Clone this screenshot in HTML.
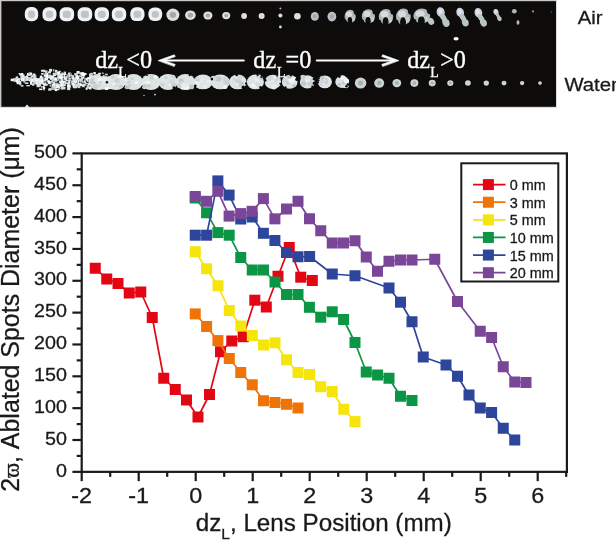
<!DOCTYPE html>
<html><head><meta charset="utf-8"><title>Ablated spots diameter vs lens position</title>
<style>
html,body{margin:0;padding:0;background:#fff;}
body{width:616px;height:542px;overflow:hidden;position:relative;font-family:"Liberation Sans", sans-serif;}
svg{position:absolute;left:0;top:0;display:block;}
text{font-family:"Liberation Sans", sans-serif;fill:#1a1a1a;stroke:#1a1a1a;stroke-width:0.3px;}
.serif{font-family:"Liberation Serif", serif;fill:#fff;stroke:#fff;stroke-width:0.35px;}
.om{font-family:"Liberation Serif", serif;}
</style></head><body>
<svg width="616" height="542" viewBox="0 0 616 542">
<defs>
<filter id="b1" x="-30%" y="-30%" width="160%" height="160%"><feGaussianBlur stdDeviation="0.9"/></filter>
<filter id="b3" x="-30%" y="-30%" width="160%" height="160%"><feGaussianBlur stdDeviation="0.75"/></filter>
<filter id="b2" x="-30%" y="-30%" width="160%" height="160%"><feGaussianBlur stdDeviation="0.6"/></filter>
</defs>
<rect width="616" height="542" fill="#fff"/>

<g id="photo">
<rect x="0" y="0" width="556.6" height="107.6" fill="#c9c9c9"/>
<rect x="1.4" y="1.2" width="554.6" height="105.6" fill="#0d0c0b"/>
<path d="M24.5 107.4L27 104.6L29.5 107.4Z" fill="#f4f4f4"/>
<g filter="url(#b2)">
<rect x="24.80" y="7.10" width="13.4" height="14.2" rx="5.6" ry="5.8" fill="#eff1f3"/>
<rect x="28.10" y="10.60" width="6.80" height="7.60" rx="3" ry="3" fill="#bfc4ca"/>
<rect x="42.50" y="7.20" width="14.0" height="14.0" rx="5.6" ry="5.8" fill="#eff1f3"/>
<rect x="45.80" y="10.70" width="7.40" height="7.40" rx="3" ry="3" fill="#bfc4ca"/>
<rect x="59.50" y="7.20" width="14.6" height="14.0" rx="5.6" ry="5.8" fill="#eff1f3"/>
<rect x="62.80" y="10.70" width="8.00" height="7.40" rx="3" ry="3" fill="#bfc4ca"/>
<rect x="77.60" y="7.20" width="14.6" height="14.0" rx="5.6" ry="5.8" fill="#eff1f3"/>
<rect x="80.90" y="10.70" width="8.00" height="7.40" rx="3" ry="3" fill="#bfc4ca"/>
<rect x="94.60" y="7.20" width="14.4" height="14.0" rx="5.6" ry="5.8" fill="#eff1f3"/>
<rect x="97.90" y="10.70" width="7.80" height="7.40" rx="3" ry="3" fill="#bfc4ca"/>
<rect x="111.80" y="7.20" width="14.4" height="14.0" rx="5.6" ry="5.8" fill="#eff1f3"/>
<rect x="115.10" y="10.70" width="7.80" height="7.40" rx="3" ry="3" fill="#bfc4ca"/>
<rect x="130.30" y="7.30" width="14.2" height="13.8" rx="5.6" ry="5.8" fill="#eff1f3"/>
<rect x="133.60" y="10.80" width="7.60" height="7.20" rx="3" ry="3" fill="#bfc4ca"/>
<rect x="148.40" y="7.50" width="13.8" height="13.4" rx="5.6" ry="5.8" fill="#eff1f3"/>
<rect x="151.70" y="11.00" width="7.20" height="6.80" rx="3" ry="3" fill="#bfc4ca"/>
</g>
<g filter="url(#b3)">
<ellipse cx="172.9" cy="14.8" rx="6.5" ry="6.2" fill="#dce0de"/>
<ellipse cx="172.9" cy="14.8" rx="3.25" ry="3.10" fill="#a4aaa8"/>
<ellipse cx="190.4" cy="15.2" rx="5.3" ry="4.8" fill="#dce0de"/>
<ellipse cx="190.4" cy="15.2" rx="2.65" ry="2.40" fill="#a4aaa8"/>
<ellipse cx="207.9" cy="15.5" rx="4.5" ry="4.1" fill="#dce0de"/>
<ellipse cx="207.9" cy="15.5" rx="2.25" ry="2.05" fill="#a4aaa8"/>
<ellipse cx="226.2" cy="15.6" rx="4" ry="3.6" fill="#dce0de"/>
<ellipse cx="226.2" cy="15.6" rx="2.00" ry="1.80" fill="#a4aaa8"/>
<ellipse cx="244.1" cy="16" rx="2.9" ry="2.9" fill="#dce0de"/>
<ellipse cx="261.6" cy="16" rx="3" ry="3" fill="#dce0de"/>
<ellipse cx="280.4" cy="15.5" rx="2" ry="2" fill="#dce0de"/>
<ellipse cx="297.4" cy="16.2" rx="3.3" ry="3.3" fill="#dce0de"/>
<ellipse cx="314.8" cy="16.4" rx="4.0" ry="4.3" fill="#bcc2c4"/>
<ellipse cx="314.8" cy="16.4" rx="2.00" ry="2.15" fill="#a3a6ae"/>
<ellipse cx="331.9" cy="16.6" rx="4.4" ry="4.8" fill="#bcc2c4"/>
<ellipse cx="331.9" cy="16.6" rx="2.20" ry="2.40" fill="#a3a6ae"/>
<circle cx="280.4" cy="27" r="1.4" fill="#cfe0e0"/><circle cx="280.4" cy="8.5" r="1" fill="#aab"/>
<ellipse cx="350.2" cy="16.4" rx="5.60" ry="6.60" fill="#aeb7b7"/>
<ellipse cx="349.08" cy="14.36" rx="3.08" ry="2.77" fill="#d6dbdf"/>
<ellipse cx="353.00" cy="18.98" rx="2.02" ry="2.38" fill="#c4ccc6"/>
<ellipse cx="349.92" cy="21.09" rx="2.24" ry="4.09" fill="#0d0c0b"/>
<ellipse cx="344.60" cy="21.62" rx="2.02" ry="2.64" fill="#0d0c0b"/>
<ellipse cx="355.52" cy="12.05" rx="1.90" ry="2.64" fill="#0d0c0b"/>
<ellipse cx="368.4" cy="16.4" rx="6.60" ry="7.20" fill="#aeb7b7"/>
<ellipse cx="367.08" cy="14.12" rx="3.63" ry="3.02" fill="#d6dbdf"/>
<ellipse cx="371.70" cy="19.16" rx="2.38" ry="2.59" fill="#c4ccc6"/>
<ellipse cx="368.07" cy="21.46" rx="2.64" ry="4.46" fill="#0d0c0b"/>
<ellipse cx="361.80" cy="22.04" rx="2.38" ry="2.88" fill="#0d0c0b"/>
<ellipse cx="374.67" cy="11.60" rx="2.24" ry="2.88" fill="#0d0c0b"/>
<ellipse cx="386" cy="16.7" rx="7.20" ry="7.80" fill="#aeb7b7"/>
<ellipse cx="384.56" cy="14.18" rx="3.96" ry="3.28" fill="#d6dbdf"/>
<ellipse cx="389.60" cy="19.64" rx="2.59" ry="2.81" fill="#c4ccc6"/>
<ellipse cx="385.64" cy="22.14" rx="2.88" ry="4.84" fill="#0d0c0b"/>
<ellipse cx="378.80" cy="22.76" rx="2.59" ry="3.12" fill="#0d0c0b"/>
<ellipse cx="392.84" cy="11.45" rx="2.45" ry="3.12" fill="#0d0c0b"/>
<ellipse cx="403.4" cy="16.7" rx="7.40" ry="8.20" fill="#aeb7b7"/>
<ellipse cx="401.92" cy="14.02" rx="4.07" ry="3.44" fill="#d6dbdf"/>
<ellipse cx="407.10" cy="19.76" rx="2.66" ry="2.95" fill="#c4ccc6"/>
<ellipse cx="403.03" cy="22.38" rx="2.96" ry="5.08" fill="#0d0c0b"/>
<ellipse cx="396.00" cy="23.04" rx="2.66" ry="3.28" fill="#0d0c0b"/>
<ellipse cx="410.43" cy="11.15" rx="2.52" ry="3.28" fill="#0d0c0b"/>
<ellipse cx="421.8" cy="16.0" rx="8.40" ry="7.40" fill="#aeb7b7"/>
<ellipse cx="420.12" cy="13.64" rx="4.62" ry="3.11" fill="#d6dbdf"/>
<ellipse cx="426.00" cy="18.82" rx="3.02" ry="2.66" fill="#c4ccc6"/>
<ellipse cx="421.38" cy="21.19" rx="3.36" ry="4.59" fill="#0d0c0b"/>
<ellipse cx="413.40" cy="21.78" rx="3.02" ry="2.96" fill="#0d0c0b"/>
<ellipse cx="429.78" cy="11.05" rx="2.86" ry="2.96" fill="#0d0c0b"/>
<ellipse cx="431" cy="21.4" rx="3.0" ry="3.6" fill="#bdc7c4" transform="rotate(-30 431 21.4)"/>
<ellipse cx="440.7" cy="12.2" rx="4.0" ry="5.0" fill="#cdd3da" transform="rotate(-15 440.7 12.2)"/>
<ellipse cx="443.3" cy="17.5" rx="2.7" ry="4.2" fill="#bcc6c8" transform="rotate(-32 443.3 17.5)"/>
<ellipse cx="445.9" cy="22.4" rx="3.5" ry="4.6" fill="#b9c6bf" transform="rotate(-20 445.9 22.4)"/>
<ellipse cx="440.3" cy="11.5" rx="1.7" ry="2.4" fill="#e4e6ee"/>
<ellipse cx="448.5" cy="17.5" rx="1.6" ry="2.6" fill="#0d0c0b"/>
<ellipse cx="439.7" cy="21.6" rx="2.2" ry="3.0" fill="#0d0c0b"/>
<ellipse cx="460.2" cy="12.4" rx="3.8" ry="4.8" fill="#cdd3da" transform="rotate(-15 460.2 12.4)"/>
<ellipse cx="462.7" cy="17.5" rx="2.6" ry="4.0" fill="#bcc6c8" transform="rotate(-32 462.7 17.5)"/>
<ellipse cx="465.2" cy="22.1" rx="3.3" ry="4.4" fill="#b9c6bf" transform="rotate(-20 465.2 22.1)"/>
<ellipse cx="459.8" cy="11.8" rx="1.6" ry="2.3" fill="#e4e6ee"/>
<ellipse cx="467.6" cy="17.5" rx="1.5" ry="2.5" fill="#0d0c0b"/>
<ellipse cx="459.3" cy="21.4" rx="2.1" ry="2.8" fill="#0d0c0b"/>
<ellipse cx="478.4" cy="12.7" rx="3.8" ry="4.8" fill="#cdd3da" transform="rotate(-15 478.4 12.7)"/>
<ellipse cx="480.9" cy="17.8" rx="2.6" ry="4.0" fill="#bcc6c8" transform="rotate(-32 480.9 17.8)"/>
<ellipse cx="483.4" cy="22.4" rx="3.3" ry="4.4" fill="#b9c6bf" transform="rotate(-20 483.4 22.4)"/>
<ellipse cx="478.0" cy="12.1" rx="1.6" ry="2.3" fill="#e4e6ee"/>
<ellipse cx="485.8" cy="17.8" rx="1.5" ry="2.5" fill="#0d0c0b"/>
<ellipse cx="477.5" cy="21.7" rx="2.1" ry="2.8" fill="#0d0c0b"/>
<ellipse cx="496.0" cy="12.0" rx="2.5" ry="3.1" fill="#cdd3da" transform="rotate(-15 496.0 12.0)"/>
<ellipse cx="497.6" cy="15.3" rx="1.7" ry="2.6" fill="#bcc6c8" transform="rotate(-32 497.6 15.3)"/>
<ellipse cx="499.3" cy="18.3" rx="2.2" ry="2.9" fill="#b9c6bf" transform="rotate(-20 499.3 18.3)"/>
<ellipse cx="495.8" cy="11.6" rx="1.1" ry="1.5" fill="#e4e6ee"/>
<ellipse cx="500.9" cy="15.3" rx="1.0" ry="1.6" fill="#0d0c0b"/>
<ellipse cx="495.4" cy="17.9" rx="1.4" ry="1.9" fill="#0d0c0b"/>
<ellipse cx="514.3" cy="11.2" rx="2.4" ry="2.2" fill="#aab8b0"/><ellipse cx="518" cy="22.5" rx="1.4" ry="2.2" fill="#c9b8c4"/>
<circle cx="533" cy="11.4" r="1.1" fill="#8a9088"/><circle cx="551.4" cy="12" r="0.8" fill="#555a66"/>
</g>
<ellipse cx="456.1" cy="38.8" rx="2.6" ry="1.7" fill="#fff" filter="url(#b2)"/>
<g filter="url(#b2)">
<rect x="17.1" y="78.4" width="1.7" height="1.3" fill="#eef3f3"/>
<rect x="14.8" y="79.6" width="3.0" height="1.9" fill="#d8e8e4"/>
<rect x="16.4" y="78.5" width="2.6" height="3.0" fill="#ffffff"/>
<rect x="15.8" y="76.5" width="2.3" height="1.9" fill="#ffffff"/>
<rect x="16.1" y="77.6" width="1.7" height="1.6" fill="#cfdadb"/>
<rect x="18.5" y="78.2" width="1.7" height="1.7" fill="#f8fafa"/>
<rect x="13.2" y="78.3" width="2.6" height="3.1" fill="#eef3f3"/>
<rect x="10.7" y="78.7" width="3.5" height="2.5" fill="#ffffff"/>
<rect x="13.4" y="79.1" width="2.4" height="1.9" fill="#cfdadb"/>
<rect x="18.2" y="80.3" width="1.7" height="1.8" fill="#eef3f3"/>
<rect x="18.5" y="81.0" width="2.5" height="3.1" fill="#eef3f3"/>
<rect x="17.9" y="80.0" width="2.2" height="2.4" fill="#c2d0d0"/>
<rect x="15.5" y="77.5" width="1.6" height="2.1" fill="#d8e8e4"/>
<rect x="15.5" y="79.4" width="1.6" height="2.7" fill="#e2dcea"/>
<rect x="13.9" y="80.2" width="2.5" height="1.5" fill="#c2d0d0"/>
<rect x="18.6" y="82.0" width="1.4" height="2.2" fill="#dfe6e6"/>
<rect x="16.3" y="77.7" width="2.1" height="1.5" fill="#cfdadb"/>
<rect x="13.8" y="78.7" width="2.1" height="1.6" fill="#cfdadb"/>
<rect x="19.2" y="73.6" width="3.0" height="1.6" fill="#d8e8e4"/>
<rect x="18.7" y="79.6" width="1.4" height="1.7" fill="#e2dcea"/>
<rect x="19.4" y="82.5" width="2.1" height="2.8" fill="#c2d0d0"/>
<rect x="20.3" y="78.3" width="1.8" height="1.6" fill="#cfdadb"/>
<rect x="16.7" y="81.8" width="3.6" height="2.4" fill="#eef3f3"/>
<rect x="15.4" y="79.8" width="3.1" height="1.3" fill="#dfe6e6"/>
<rect x="20.7" y="75.9" width="3.0" height="2.1" fill="#f8fafa"/>
<rect x="16.5" y="80.1" width="1.5" height="3.1" fill="#ffffff"/>
<rect x="16.0" y="80.4" width="1.5" height="1.4" fill="#f8fafa"/>
<rect x="23.0" y="77.1" width="2.4" height="2.5" fill="#d8e8e4"/>
<rect x="19.7" y="74.1" width="2.6" height="1.4" fill="#eef3f3"/>
<rect x="23.4" y="79.5" width="1.6" height="3.2" fill="#cfdadb"/>
<rect x="21.5" y="74.5" width="1.9" height="1.7" fill="#cfdadb"/>
<rect x="20.7" y="73.0" width="2.6" height="2.9" fill="#eef3f3"/>
<rect x="22.1" y="74.6" width="2.4" height="2.3" fill="#ffffff"/>
<rect x="21.3" y="77.5" width="2.5" height="2.9" fill="#f8fafa"/>
<rect x="18.6" y="73.0" width="1.6" height="1.4" fill="#dfe6e6"/>
<rect x="21.6" y="75.3" width="2.5" height="2.3" fill="#dfe6e6"/>
<rect x="24.0" y="76.1" width="1.7" height="1.2" fill="#dfe6e6"/>
<rect x="20.5" y="75.7" width="3.0" height="3.0" fill="#d8e8e4"/>
<rect x="20.8" y="85.1" width="2.7" height="1.5" fill="#e2dcea"/>
<rect x="21.1" y="77.2" width="2.4" height="3.1" fill="#e2dcea"/>
<rect x="26.9" y="73.0" width="1.8" height="2.0" fill="#ffffff"/>
<rect x="25.0" y="79.3" width="1.5" height="1.6" fill="#dfe6e6"/>
<rect x="23.9" y="79.0" width="1.6" height="2.7" fill="#c2d0d0"/>
<rect x="24.9" y="82.4" width="3.5" height="1.6" fill="#dfe6e6"/>
<rect x="20.9" y="78.5" width="3.6" height="2.8" fill="#f8fafa"/>
<rect x="24.1" y="79.1" width="2.1" height="1.3" fill="#c2d0d0"/>
<rect x="27.9" y="77.6" width="2.3" height="1.1" fill="#c2d0d0"/>
<rect x="23.5" y="76.7" width="3.5" height="1.3" fill="#cfdadb"/>
<rect x="26.6" y="76.8" width="1.9" height="1.2" fill="#f8fafa"/>
<rect x="25.5" y="78.0" width="2.3" height="3.0" fill="#e2dcea"/>
<rect x="23.7" y="79.0" width="2.5" height="2.1" fill="#c2d0d0"/>
<rect x="25.8" y="77.3" width="2.9" height="2.0" fill="#dfe6e6"/>
<rect x="26.0" y="77.5" width="1.5" height="1.6" fill="#cfdadb"/>
<rect x="28.9" y="79.6" width="2.3" height="1.8" fill="#ffffff"/>
<rect x="29.0" y="77.1" width="1.6" height="2.2" fill="#cfdadb"/>
<rect x="32.0" y="75.2" width="1.9" height="1.5" fill="#e2dcea"/>
<rect x="26.1" y="75.3" width="1.8" height="2.0" fill="#f8fafa"/>
<rect x="26.3" y="85.1" width="3.6" height="1.2" fill="#eef3f3"/>
<rect x="27.4" y="74.0" width="1.7" height="2.1" fill="#d8e8e4"/>
<rect x="30.0" y="82.4" width="2.3" height="2.1" fill="#ffffff"/>
<rect x="29.1" y="78.1" width="1.8" height="1.6" fill="#cfdadb"/>
<rect x="28.5" y="73.7" width="2.8" height="1.9" fill="#c2d0d0"/>
<rect x="31.3" y="77.5" width="1.3" height="2.4" fill="#e2dcea"/>
<rect x="26.6" y="79.0" width="2.8" height="1.9" fill="#e2dcea"/>
<rect x="28.7" y="74.1" width="1.4" height="1.5" fill="#e2dcea"/>
<rect x="28.5" y="77.4" width="3.5" height="3.1" fill="#c2d0d0"/>
<rect x="30.3" y="80.1" width="1.3" height="1.9" fill="#d8e8e4"/>
<rect x="30.2" y="81.7" width="1.9" height="2.7" fill="#dfe6e6"/>
<rect x="30.4" y="78.9" width="2.2" height="1.2" fill="#eef3f3"/>
<rect x="30.1" y="81.2" width="1.5" height="3.1" fill="#f8fafa"/>
<rect x="28.4" y="72.4" width="3.3" height="1.9" fill="#c2d0d0"/>
<rect x="30.2" y="72.8" width="2.0" height="2.4" fill="#f8fafa"/>
<rect x="33.2" y="78.6" width="3.4" height="2.4" fill="#f8fafa"/>
<rect x="32.8" y="73.5" width="2.6" height="2.8" fill="#eef3f3"/>
<rect x="33.0" y="75.2" width="3.4" height="2.5" fill="#cfdadb"/>
<rect x="32.7" y="79.5" width="2.8" height="3.1" fill="#ffffff"/>
<rect x="33.4" y="75.5" width="2.7" height="2.4" fill="#cfdadb"/>
<rect x="31.9" y="79.3" width="3.1" height="2.7" fill="#dfe6e6"/>
<rect x="31.8" y="78.7" width="3.0" height="1.6" fill="#dfe6e6"/>
<rect x="32.8" y="77.7" width="3.0" height="1.6" fill="#d8e8e4"/>
<rect x="30.6" y="79.4" width="2.4" height="2.5" fill="#eef3f3"/>
<rect x="31.0" y="76.5" width="1.5" height="1.4" fill="#e2dcea"/>
<rect x="30.6" y="75.5" width="2.7" height="1.4" fill="#d8e8e4"/>
<rect x="33.5" y="80.3" width="2.8" height="2.6" fill="#d8e8e4"/>
<rect x="31.9" y="83.6" width="2.4" height="2.1" fill="#dfe6e6"/>
<rect x="38.2" y="79.5" width="2.0" height="1.3" fill="#d8e8e4"/>
<rect x="37.3" y="79.2" width="3.2" height="3.1" fill="#d8e8e4"/>
<rect x="37.0" y="78.7" width="3.4" height="3.1" fill="#dfe6e6"/>
<rect x="34.8" y="77.9" width="2.5" height="3.1" fill="#f8fafa"/>
<rect x="33.9" y="76.7" width="1.9" height="1.3" fill="#c2d0d0"/>
<rect x="35.9" y="79.4" width="1.3" height="2.1" fill="#d8e8e4"/>
<rect x="33.4" y="82.6" width="2.3" height="1.9" fill="#dfe6e6"/>
<rect x="35.5" y="78.8" width="3.0" height="2.9" fill="#dfe6e6"/>
<rect x="37.4" y="78.2" width="1.3" height="2.7" fill="#e2dcea"/>
<rect x="33.9" y="81.7" width="3.6" height="2.3" fill="#c2d0d0"/>
<rect x="40.3" y="78.9" width="3.3" height="1.7" fill="#eef3f3"/>
<rect x="38.3" y="79.1" width="3.5" height="1.6" fill="#e2dcea"/>
<rect x="36.2" y="82.2" width="3.1" height="2.7" fill="#ffffff"/>
<rect x="40.3" y="76.6" width="2.8" height="3.0" fill="#cfdadb"/>
<rect x="37.6" y="80.3" width="3.0" height="2.0" fill="#f8fafa"/>
<rect x="37.6" y="78.6" width="1.4" height="3.0" fill="#f8fafa"/>
<rect x="39.1" y="84.8" width="1.9" height="1.6" fill="#e2dcea"/>
<rect x="36.9" y="82.6" width="2.4" height="2.5" fill="#dfe6e6"/>
<rect x="38.9" y="82.7" width="1.8" height="3.0" fill="#d8e8e4"/>
<rect x="36.3" y="79.9" width="2.1" height="2.7" fill="#ffffff"/>
<rect x="39.2" y="83.3" width="1.5" height="1.8" fill="#dfe6e6"/>
<rect x="36.9" y="84.7" width="3.2" height="1.5" fill="#eef3f3"/>
<rect x="39.8" y="75.6" width="2.3" height="2.2" fill="#ffffff"/>
<rect x="37.5" y="80.6" width="2.1" height="2.5" fill="#cfdadb"/>
<rect x="43.0" y="86.5" width="2.2" height="2.5" fill="#ffffff"/>
<rect x="42.6" y="78.5" width="3.3" height="1.1" fill="#eef3f3"/>
<rect x="36.6" y="84.1" width="3.1" height="3.1" fill="#d8e8e4"/>
<rect x="41.0" y="80.4" width="3.4" height="2.8" fill="#d8e8e4"/>
<rect x="41.5" y="80.5" width="1.6" height="1.4" fill="#dfe6e6"/>
<rect x="42.2" y="77.6" width="2.8" height="2.7" fill="#d8e8e4"/>
<rect x="42.9" y="85.6" width="1.3" height="1.4" fill="#eef3f3"/>
<rect x="39.2" y="77.7" width="1.6" height="1.6" fill="#ffffff"/>
<rect x="39.9" y="78.4" width="1.5" height="2.2" fill="#cfdadb"/>
<rect x="38.6" y="83.6" width="2.7" height="1.1" fill="#e2dcea"/>
<rect x="41.4" y="80.3" width="2.0" height="2.9" fill="#cfdadb"/>
<rect x="38.7" y="80.8" width="1.9" height="3.1" fill="#e2dcea"/>
<rect x="40.4" y="81.7" width="3.3" height="2.5" fill="#dfe6e6"/>
<rect x="39.1" y="88.5" width="3.4" height="1.6" fill="#eef3f3"/>
<rect x="41.0" y="69.8" width="2.1" height="1.9" fill="#eef3f3"/>
<rect x="42.7" y="69.7" width="2.5" height="1.5" fill="#cfdadb"/>
<rect x="40.9" y="86.1" width="1.8" height="1.6" fill="#e2dcea"/>
<rect x="43.6" y="81.2" width="2.7" height="3.0" fill="#d8e8e4"/>
<rect x="39.0" y="81.3" width="3.5" height="1.4" fill="#ffffff"/>
<rect x="42.1" y="77.7" width="2.7" height="2.0" fill="#eef3f3"/>
<rect x="42.4" y="82.4" width="2.9" height="1.8" fill="#dfe6e6"/>
<rect x="46.2" y="77.4" width="2.1" height="1.5" fill="#d8e8e4"/>
<rect x="44.6" y="78.8" width="2.2" height="1.9" fill="#c2d0d0"/>
<rect x="41.5" y="78.5" width="1.5" height="1.3" fill="#ffffff"/>
<rect x="42.2" y="76.8" width="3.5" height="1.5" fill="#c2d0d0"/>
<rect x="41.6" y="73.4" width="3.1" height="1.3" fill="#d8e8e4"/>
<rect x="42.6" y="83.3" width="2.3" height="1.8" fill="#d8e8e4"/>
<rect x="43.3" y="77.9" width="3.2" height="2.7" fill="#eef3f3"/>
<rect x="40.0" y="81.6" width="3.1" height="1.2" fill="#cfdadb"/>
<rect x="40.5" y="80.5" width="3.5" height="2.4" fill="#e2dcea"/>
<rect x="43.1" y="70.6" width="3.4" height="1.7" fill="#dfe6e6"/>
<rect x="44.9" y="78.2" width="2.4" height="3.1" fill="#ffffff"/>
<rect x="44.0" y="76.1" width="2.4" height="1.1" fill="#e2dcea"/>
<rect x="44.9" y="70.5" width="2.7" height="1.8" fill="#c2d0d0"/>
<rect x="40.5" y="80.2" width="2.7" height="2.2" fill="#ffffff"/>
<rect x="44.1" y="74.8" width="1.4" height="1.2" fill="#c2d0d0"/>
<rect x="45.1" y="83.0" width="1.5" height="1.3" fill="#dfe6e6"/>
<rect x="43.5" y="82.6" width="3.6" height="3.1" fill="#f8fafa"/>
<rect x="43.7" y="83.1" width="2.7" height="2.5" fill="#dfe6e6"/>
<rect x="44.2" y="74.2" width="1.9" height="1.7" fill="#e2dcea"/>
<rect x="43.8" y="75.0" width="1.9" height="1.6" fill="#f8fafa"/>
<rect x="43.2" y="89.2" width="1.7" height="1.2" fill="#e2dcea"/>
<rect x="46.1" y="77.5" width="1.8" height="2.8" fill="#d8e8e4"/>
<rect x="44.5" y="77.6" width="2.4" height="2.8" fill="#d8e8e4"/>
<rect x="44.3" y="77.7" width="2.0" height="1.4" fill="#cfdadb"/>
<rect x="41.2" y="73.0" width="1.7" height="1.3" fill="#f8fafa"/>
<rect x="45.0" y="78.2" width="3.1" height="3.1" fill="#dfe6e6"/>
<rect x="45.0" y="72.0" width="2.1" height="1.2" fill="#c2d0d0"/>
<rect x="47.7" y="80.0" width="1.9" height="2.4" fill="#cfdadb"/>
<rect x="45.1" y="80.5" width="2.7" height="1.3" fill="#eef3f3"/>
<rect x="47.8" y="71.9" width="1.4" height="1.3" fill="#ffffff"/>
<rect x="46.1" y="74.8" width="2.5" height="2.5" fill="#ffffff"/>
<rect x="46.3" y="72.9" width="2.0" height="1.7" fill="#eef3f3"/>
<rect x="46.0" y="83.5" width="2.1" height="2.0" fill="#c2d0d0"/>
<rect x="45.7" y="73.1" width="2.2" height="3.1" fill="#ffffff"/>
<rect x="47.9" y="74.5" width="3.2" height="2.0" fill="#c2d0d0"/>
<rect x="46.2" y="78.2" width="1.3" height="2.3" fill="#ffffff"/>
<rect x="49.0" y="81.2" width="2.2" height="2.2" fill="#f8fafa"/>
<rect x="46.4" y="80.4" width="1.7" height="1.2" fill="#ffffff"/>
<rect x="42.9" y="78.3" width="3.5" height="1.5" fill="#f8fafa"/>
<rect x="46.5" y="76.4" width="3.4" height="1.8" fill="#ffffff"/>
<rect x="48.9" y="81.1" width="2.9" height="3.0" fill="#cfdadb"/>
<rect x="45.2" y="72.8" width="1.8" height="2.1" fill="#cfdadb"/>
<rect x="53.8" y="83.0" width="1.7" height="1.9" fill="#f8fafa"/>
<rect x="48.9" y="88.3" width="3.4" height="1.2" fill="#eef3f3"/>
<rect x="48.7" y="76.0" width="2.2" height="2.1" fill="#e2dcea"/>
<rect x="48.7" y="76.5" width="1.9" height="1.9" fill="#c2d0d0"/>
<rect x="48.1" y="81.5" width="1.4" height="2.4" fill="#d8e8e4"/>
<rect x="47.3" y="80.7" width="2.7" height="2.8" fill="#f8fafa"/>
<rect x="50.5" y="75.3" width="1.5" height="1.9" fill="#c2d0d0"/>
<rect x="51.0" y="83.2" width="2.5" height="1.2" fill="#f8fafa"/>
<rect x="51.6" y="83.8" width="3.1" height="2.2" fill="#eef3f3"/>
<rect x="49.2" y="68.9" width="2.8" height="2.7" fill="#eef3f3"/>
<rect x="49.3" y="70.2" width="1.7" height="3.2" fill="#d8e8e4"/>
<rect x="48.2" y="88.5" width="3.1" height="2.5" fill="#cfdadb"/>
<rect x="50.6" y="82.0" width="3.0" height="1.4" fill="#e2dcea"/>
<rect x="51.3" y="76.2" width="1.9" height="3.1" fill="#d8e8e4"/>
<rect x="49.7" y="83.8" width="2.5" height="1.8" fill="#eef3f3"/>
<rect x="49.8" y="84.9" width="2.8" height="1.7" fill="#c2d0d0"/>
<rect x="49.9" y="78.4" width="3.1" height="1.3" fill="#eef3f3"/>
<rect x="50.1" y="75.8" width="3.3" height="2.3" fill="#dfe6e6"/>
<rect x="51.2" y="85.3" width="3.3" height="2.6" fill="#c2d0d0"/>
<rect x="49.8" y="77.3" width="3.1" height="2.0" fill="#f8fafa"/>
<rect x="48.4" y="71.0" width="2.0" height="2.2" fill="#e2dcea"/>
<rect x="49.5" y="76.1" width="2.0" height="1.1" fill="#eef3f3"/>
<rect x="51.7" y="83.6" width="2.7" height="2.0" fill="#c2d0d0"/>
<rect x="52.7" y="77.6" width="1.8" height="2.5" fill="#eef3f3"/>
<rect x="54.0" y="81.5" width="2.0" height="2.2" fill="#cfdadb"/>
<rect x="50.7" y="81.7" width="1.6" height="1.9" fill="#d8e8e4"/>
<rect x="51.4" y="79.9" width="3.1" height="2.6" fill="#d8e8e4"/>
<rect x="53.3" y="83.1" width="3.3" height="2.7" fill="#ffffff"/>
<rect x="54.3" y="82.5" width="3.4" height="2.3" fill="#d8e8e4"/>
<rect x="49.9" y="76.1" width="2.4" height="1.4" fill="#eef3f3"/>
<rect x="53.8" y="81.4" width="2.2" height="1.6" fill="#eef3f3"/>
<rect x="52.2" y="78.0" width="2.7" height="2.5" fill="#cfdadb"/>
<rect x="53.9" y="79.6" width="2.7" height="2.2" fill="#ffffff"/>
<rect x="54.0" y="74.3" width="2.0" height="1.7" fill="#eef3f3"/>
<rect x="56.2" y="76.6" width="2.4" height="2.2" fill="#ffffff"/>
<rect x="55.0" y="69.9" width="2.4" height="2.7" fill="#d8e8e4"/>
<rect x="53.6" y="83.7" width="1.6" height="3.0" fill="#e2dcea"/>
<rect x="52.9" y="73.2" width="2.6" height="2.0" fill="#e2dcea"/>
<rect x="51.7" y="88.4" width="3.4" height="1.3" fill="#eef3f3"/>
<rect x="54.8" y="86.8" width="3.2" height="1.5" fill="#f8fafa"/>
<rect x="52.8" y="72.7" width="3.3" height="1.8" fill="#cfdadb"/>
<rect x="50.3" y="83.2" width="3.4" height="3.2" fill="#d8e8e4"/>
<rect x="51.7" y="78.6" width="1.3" height="1.2" fill="#cfdadb"/>
<rect x="52.3" y="75.0" width="1.8" height="2.4" fill="#dfe6e6"/>
<rect x="52.8" y="76.2" width="1.4" height="1.3" fill="#f8fafa"/>
<rect x="53.3" y="79.8" width="1.4" height="1.2" fill="#eef3f3"/>
<rect x="52.9" y="69.2" width="1.5" height="2.3" fill="#c2d0d0"/>
<rect x="54.7" y="88.6" width="2.5" height="2.5" fill="#ffffff"/>
<rect x="54.7" y="79.6" width="1.6" height="1.2" fill="#dfe6e6"/>
<rect x="56.7" y="74.2" width="2.0" height="1.3" fill="#dfe6e6"/>
<rect x="56.2" y="73.3" width="2.0" height="1.8" fill="#e2dcea"/>
<rect x="56.9" y="80.4" width="1.9" height="2.6" fill="#c2d0d0"/>
<rect x="57.8" y="75.6" width="2.7" height="2.1" fill="#e2dcea"/>
<rect x="55.1" y="79.3" width="2.2" height="2.0" fill="#dfe6e6"/>
<rect x="53.6" y="86.8" width="2.5" height="1.6" fill="#dfe6e6"/>
<rect x="54.0" y="78.2" width="2.3" height="2.2" fill="#e2dcea"/>
<rect x="57.4" y="80.0" width="2.4" height="2.8" fill="#f8fafa"/>
<rect x="57.1" y="78.7" width="3.5" height="2.2" fill="#f8fafa"/>
<rect x="54.8" y="83.5" width="2.9" height="2.1" fill="#dfe6e6"/>
<rect x="58.1" y="76.4" width="2.4" height="3.2" fill="#dfe6e6"/>
<rect x="54.2" y="76.9" width="2.2" height="1.9" fill="#dfe6e6"/>
<rect x="53.1" y="83.7" width="2.2" height="1.7" fill="#ffffff"/>
<rect x="57.2" y="76.3" width="2.2" height="3.0" fill="#cfdadb"/>
<rect x="56.1" y="79.0" width="2.7" height="2.5" fill="#eef3f3"/>
<rect x="54.8" y="83.4" width="1.7" height="2.9" fill="#c2d0d0"/>
<rect x="55.9" y="84.7" width="3.1" height="2.3" fill="#f8fafa"/>
<rect x="53.8" y="86.3" width="2.9" height="2.2" fill="#e2dcea"/>
<rect x="56.4" y="86.1" width="3.2" height="1.4" fill="#f8fafa"/>
<rect x="60.4" y="77.2" width="2.7" height="1.8" fill="#cfdadb"/>
<rect x="56.6" y="80.9" width="3.5" height="2.6" fill="#dfe6e6"/>
<rect x="59.4" y="85.0" width="1.7" height="1.4" fill="#f8fafa"/>
<rect x="58.5" y="70.8" width="2.3" height="1.5" fill="#dfe6e6"/>
<rect x="57.0" y="89.1" width="2.4" height="1.1" fill="#ffffff"/>
<rect x="56.8" y="72.8" width="2.8" height="2.1" fill="#f8fafa"/>
<rect x="58.1" y="86.8" width="1.3" height="1.6" fill="#ffffff"/>
<rect x="56.8" y="71.6" width="2.8" height="2.9" fill="#cfdadb"/>
<rect x="56.6" y="72.1" width="2.3" height="1.8" fill="#dfe6e6"/>
<rect x="58.8" y="75.8" width="2.2" height="2.6" fill="#f8fafa"/>
<rect x="57.7" y="83.5" width="2.3" height="2.4" fill="#ffffff"/>
<rect x="54.6" y="77.1" width="3.3" height="3.0" fill="#c2d0d0"/>
<rect x="58.0" y="72.9" width="2.4" height="3.1" fill="#eef3f3"/>
<rect x="57.4" y="81.4" width="2.9" height="3.1" fill="#cfdadb"/>
<rect x="56.7" y="78.0" width="2.6" height="2.2" fill="#d8e8e4"/>
<rect x="54.7" y="77.8" width="3.2" height="2.2" fill="#ffffff"/>
<rect x="57.0" y="73.1" width="3.6" height="1.5" fill="#dfe6e6"/>
<rect x="57.2" y="71.8" width="2.8" height="1.6" fill="#ffffff"/>
<rect x="60.2" y="79.6" width="2.3" height="2.0" fill="#c2d0d0"/>
<rect x="59.8" y="78.0" width="2.0" height="1.9" fill="#cfdadb"/>
<rect x="64.9" y="79.0" width="2.4" height="1.4" fill="#dfe6e6"/>
<rect x="61.3" y="72.4" width="2.4" height="2.3" fill="#cfdadb"/>
<rect x="60.5" y="76.1" width="2.8" height="2.8" fill="#ffffff"/>
<rect x="58.8" y="80.3" width="2.6" height="1.4" fill="#d8e8e4"/>
<rect x="58.4" y="86.9" width="1.9" height="1.9" fill="#e2dcea"/>
<rect x="63.0" y="77.9" width="2.4" height="2.8" fill="#e2dcea"/>
<rect x="58.9" y="84.8" width="2.0" height="2.1" fill="#dfe6e6"/>
<rect x="58.9" y="74.7" width="3.4" height="2.9" fill="#eef3f3"/>
<rect x="62.5" y="81.9" width="2.0" height="3.1" fill="#c2d0d0"/>
<rect x="60.7" y="77.9" width="1.3" height="3.1" fill="#e2dcea"/>
<rect x="60.7" y="81.7" width="1.6" height="1.6" fill="#d8e8e4"/>
<rect x="59.3" y="81.1" width="3.4" height="2.8" fill="#f8fafa"/>
<rect x="57.6" y="74.7" width="3.5" height="1.3" fill="#e2dcea"/>
<rect x="61.2" y="86.1" width="2.5" height="2.7" fill="#d8e8e4"/>
<rect x="60.3" y="77.0" width="1.6" height="2.0" fill="#f8fafa"/>
<rect x="58.1" y="79.7" width="2.4" height="3.0" fill="#d8e8e4"/>
<rect x="60.2" y="81.8" width="2.7" height="2.6" fill="#f8fafa"/>
<rect x="63.5" y="76.6" width="2.6" height="2.5" fill="#d8e8e4"/>
<rect x="60.6" y="84.4" width="3.5" height="1.3" fill="#c2d0d0"/>
<rect x="62.0" y="79.8" width="2.7" height="2.5" fill="#c2d0d0"/>
<rect x="62.8" y="78.8" width="2.4" height="2.7" fill="#f8fafa"/>
<rect x="65.1" y="82.4" width="2.7" height="1.8" fill="#c2d0d0"/>
<rect x="60.7" y="86.6" width="2.6" height="3.0" fill="#e2dcea"/>
<rect x="60.7" y="82.2" width="2.6" height="2.8" fill="#e2dcea"/>
<rect x="61.4" y="84.2" width="2.1" height="3.2" fill="#c2d0d0"/>
<rect x="64.7" y="80.0" width="3.1" height="1.8" fill="#c2d0d0"/>
<rect x="61.7" y="79.1" width="3.5" height="1.3" fill="#eef3f3"/>
<rect x="60.7" y="83.9" width="2.2" height="2.3" fill="#ffffff"/>
<rect x="62.7" y="80.8" width="1.7" height="3.0" fill="#eef3f3"/>
<rect x="63.3" y="71.6" width="2.7" height="2.4" fill="#dfe6e6"/>
<rect x="63.1" y="86.7" width="2.4" height="2.7" fill="#dfe6e6"/>
<rect x="60.7" y="73.9" width="2.3" height="1.3" fill="#eef3f3"/>
<rect x="62.7" y="83.8" width="3.1" height="2.3" fill="#e2dcea"/>
<rect x="66.6" y="76.5" width="1.4" height="1.1" fill="#eef3f3"/>
<rect x="62.8" y="77.9" width="3.2" height="2.7" fill="#ffffff"/>
<rect x="61.8" y="74.3" width="2.3" height="1.1" fill="#ffffff"/>
<rect x="64.4" y="76.0" width="3.1" height="2.3" fill="#dfe6e6"/>
<rect x="64.9" y="76.3" width="1.6" height="1.1" fill="#eef3f3"/>
<rect x="67.4" y="78.1" width="3.6" height="2.9" fill="#cfdadb"/>
<rect x="66.5" y="76.2" width="1.3" height="2.6" fill="#cfdadb"/>
<rect x="62.0" y="80.4" width="3.4" height="1.9" fill="#f8fafa"/>
<rect x="65.1" y="76.1" width="2.7" height="2.6" fill="#d8e8e4"/>
<rect x="66.4" y="77.8" width="1.4" height="1.2" fill="#dfe6e6"/>
<rect x="64.0" y="80.0" width="2.7" height="3.1" fill="#d8e8e4"/>
<rect x="63.6" y="75.5" width="3.5" height="2.6" fill="#d8e8e4"/>
<rect x="67.2" y="77.6" width="3.1" height="1.9" fill="#f8fafa"/>
<rect x="66.8" y="76.0" width="2.2" height="2.8" fill="#e2dcea"/>
<rect x="68.7" y="74.6" width="2.0" height="1.2" fill="#c2d0d0"/>
<rect x="70.5" y="74.9" width="1.3" height="1.4" fill="#e2dcea"/>
<rect x="64.0" y="73.8" width="1.9" height="1.9" fill="#ffffff"/>
<rect x="64.5" y="74.4" width="3.2" height="1.7" fill="#eef3f3"/>
<rect x="67.7" y="82.1" width="1.7" height="3.0" fill="#eef3f3"/>
<rect x="67.3" y="81.3" width="3.3" height="3.2" fill="#f8fafa"/>
<rect x="67.1" y="87.6" width="3.2" height="2.5" fill="#d8e8e4"/>
<rect x="67.4" y="80.7" width="2.6" height="2.8" fill="#cfdadb"/>
<rect x="68.1" y="73.1" width="3.6" height="1.7" fill="#eef3f3"/>
<rect x="67.4" y="75.5" width="1.8" height="1.6" fill="#eef3f3"/>
<rect x="68.9" y="74.7" width="1.5" height="2.8" fill="#dfe6e6"/>
<rect x="67.7" y="84.7" width="3.4" height="3.0" fill="#c2d0d0"/>
<rect x="65.9" y="80.7" width="1.7" height="1.5" fill="#f8fafa"/>
<rect x="71.5" y="77.5" width="2.6" height="1.9" fill="#f8fafa"/>
<rect x="67.7" y="81.0" width="2.2" height="2.1" fill="#dfe6e6"/>
<rect x="72.6" y="85.4" width="2.1" height="2.2" fill="#eef3f3"/>
<rect x="71.7" y="82.2" width="3.3" height="2.3" fill="#cfdadb"/>
<rect x="66.9" y="84.9" width="3.1" height="2.8" fill="#f8fafa"/>
<rect x="71.5" y="82.1" width="1.8" height="1.5" fill="#dfe6e6"/>
<rect x="71.7" y="80.6" width="2.2" height="2.6" fill="#d8e8e4"/>
<rect x="75.4" y="77.5" width="1.4" height="2.4" fill="#ffffff"/>
<rect x="74.1" y="77.7" width="1.5" height="1.8" fill="#cfdadb"/>
<rect x="68.1" y="72.5" width="2.8" height="1.9" fill="#d8e8e4"/>
<rect x="72.4" y="77.1" width="1.8" height="2.6" fill="#f8fafa"/>
<rect x="72.6" y="81.0" width="2.1" height="3.0" fill="#eef3f3"/>
<rect x="71.1" y="79.3" width="3.1" height="2.6" fill="#d8e8e4"/>
<rect x="71.8" y="81.0" width="3.0" height="3.1" fill="#e2dcea"/>
<rect x="71.4" y="79.5" width="2.8" height="2.1" fill="#c2d0d0"/>
<rect x="73.2" y="84.4" width="2.4" height="1.5" fill="#cfdadb"/>
<rect x="74.2" y="73.1" width="3.4" height="2.1" fill="#cfdadb"/>
<rect x="73.2" y="80.0" width="3.2" height="1.3" fill="#c2d0d0"/>
<rect x="74.1" y="80.8" width="2.3" height="1.3" fill="#ffffff"/>
<rect x="74.7" y="77.1" width="2.3" height="1.8" fill="#cfdadb"/>
<rect x="71.1" y="83.0" width="1.6" height="1.6" fill="#eef3f3"/>
<rect x="73.6" y="86.2" width="3.3" height="2.0" fill="#f8fafa"/>
<rect x="73.4" y="86.5" width="1.7" height="1.7" fill="#e2dcea"/>
<rect x="72.7" y="84.3" width="2.4" height="1.8" fill="#d8e8e4"/>
<rect x="76.6" y="85.4" width="2.8" height="1.5" fill="#d8e8e4"/>
<rect x="73.4" y="79.6" width="3.0" height="3.1" fill="#ffffff"/>
<rect x="79.1" y="81.5" width="3.4" height="1.3" fill="#e2dcea"/>
<rect x="71.9" y="82.7" width="3.2" height="3.2" fill="#f8fafa"/>
<rect x="73.2" y="82.0" width="3.2" height="1.8" fill="#f8fafa"/>
<rect x="71.6" y="82.0" width="3.5" height="1.7" fill="#c2d0d0"/>
<rect x="71.7" y="82.8" width="1.8" height="2.3" fill="#f8fafa"/>
<rect x="76.6" y="75.2" width="1.8" height="1.5" fill="#dfe6e6"/>
<rect x="76.6" y="71.0" width="3.0" height="2.7" fill="#f8fafa"/>
<rect x="75.5" y="84.4" width="2.9" height="2.8" fill="#e2dcea"/>
<rect x="75.0" y="80.7" width="3.0" height="2.0" fill="#eef3f3"/>
<rect x="73.6" y="78.5" width="1.9" height="2.4" fill="#d8e8e4"/>
<rect x="76.3" y="81.9" width="3.1" height="1.4" fill="#e2dcea"/>
<rect x="74.5" y="85.1" width="3.6" height="1.2" fill="#c2d0d0"/>
<rect x="72.0" y="74.9" width="2.1" height="3.1" fill="#dfe6e6"/>
<rect x="76.8" y="83.4" width="3.2" height="2.9" fill="#c2d0d0"/>
<rect x="71.9" y="75.4" width="2.0" height="1.3" fill="#d8e8e4"/>
<rect x="74.3" y="79.8" width="3.2" height="1.4" fill="#cfdadb"/>
<rect x="76.7" y="78.9" width="1.7" height="1.3" fill="#e2dcea"/>
<rect x="71.4" y="75.1" width="1.3" height="3.0" fill="#cfdadb"/>
<rect x="77.6" y="86.0" width="2.8" height="2.1" fill="#cfdadb"/>
<rect x="77.3" y="75.7" width="3.3" height="2.6" fill="#eef3f3"/>
<rect x="77.6" y="82.3" width="2.6" height="2.7" fill="#dfe6e6"/>
<rect x="79.8" y="80.8" width="1.6" height="2.3" fill="#cfdadb"/>
<rect x="79.1" y="82.6" width="3.0" height="1.4" fill="#eef3f3"/>
<rect x="79.8" y="75.9" width="2.3" height="2.9" fill="#eef3f3"/>
<rect x="74.3" y="84.2" width="3.1" height="1.8" fill="#cfdadb"/>
<rect x="79.1" y="72.1" width="3.2" height="2.3" fill="#c2d0d0"/>
<rect x="79.5" y="79.1" width="3.5" height="3.1" fill="#cfdadb"/>
<rect x="80.4" y="73.7" width="1.3" height="1.3" fill="#f8fafa"/>
<rect x="79.7" y="80.3" width="2.5" height="1.1" fill="#f8fafa"/>
<rect x="75.9" y="79.9" width="3.6" height="2.1" fill="#eef3f3"/>
<rect x="78.2" y="77.3" width="2.8" height="1.7" fill="#e2dcea"/>
<rect x="76.3" y="72.7" width="1.4" height="1.3" fill="#dfe6e6"/>
<rect x="78.1" y="77.0" width="3.5" height="1.7" fill="#e2dcea"/>
<rect x="80.4" y="78.9" width="1.4" height="3.1" fill="#e2dcea"/>
<rect x="82.1" y="80.3" width="3.4" height="2.0" fill="#f8fafa"/>
<rect x="78.9" y="75.5" width="3.0" height="2.7" fill="#e2dcea"/>
<rect x="81.7" y="72.2" width="2.6" height="2.5" fill="#cfdadb"/>
<rect x="78.4" y="76.3" width="3.4" height="1.7" fill="#d8e8e4"/>
<rect x="79.3" y="78.3" width="1.9" height="1.6" fill="#ffffff"/>
<rect x="81.8" y="76.9" width="3.4" height="1.4" fill="#cfdadb"/>
<rect x="80.0" y="80.3" width="1.9" height="2.9" fill="#cfdadb"/>
<rect x="80.0" y="84.8" width="1.7" height="1.2" fill="#c2d0d0"/>
<rect x="80.0" y="77.9" width="2.2" height="2.0" fill="#dfe6e6"/>
<rect x="74.9" y="75.2" width="2.9" height="3.1" fill="#ffffff"/>
<rect x="79.4" y="80.6" width="2.9" height="2.4" fill="#e2dcea"/>
<rect x="81.2" y="72.4" width="3.0" height="2.7" fill="#d8e8e4"/>
<rect x="80.0" y="83.1" width="2.8" height="2.6" fill="#ffffff"/>
<rect x="80.3" y="76.9" width="3.1" height="2.3" fill="#d8e8e4"/>
<rect x="85.6" y="87.6" width="1.9" height="2.4" fill="#dfe6e6"/>
<rect x="81.9" y="84.0" width="2.4" height="2.6" fill="#e2dcea"/>
<rect x="81.9" y="85.0" width="2.7" height="2.5" fill="#eef3f3"/>
<rect x="84.1" y="73.0" width="2.4" height="2.0" fill="#f8fafa"/>
<rect x="80.2" y="79.4" width="2.3" height="1.9" fill="#cfdadb"/>
<rect x="86.9" y="85.6" width="2.0" height="2.9" fill="#cfdadb"/>
<rect x="84.6" y="79.8" width="2.3" height="3.0" fill="#eef3f3"/>
<rect x="84.2" y="81.7" width="3.4" height="1.7" fill="#e2dcea"/>
<rect x="77.0" y="77.3" width="2.5" height="2.2" fill="#ffffff"/>
<rect x="81.9" y="83.7" width="2.7" height="1.8" fill="#eef3f3"/>
<rect x="82.8" y="76.5" width="1.5" height="1.9" fill="#ffffff"/>
<rect x="81.2" y="73.5" width="1.7" height="1.5" fill="#ffffff"/>
<rect x="81.2" y="80.9" width="2.7" height="3.2" fill="#c2d0d0"/>
<rect x="82.7" y="74.6" width="1.5" height="1.9" fill="#c2d0d0"/>
<rect x="86.6" y="80.3" width="2.5" height="1.3" fill="#e2dcea"/>
<rect x="81.5" y="73.3" width="3.6" height="3.0" fill="#ffffff"/>
<rect x="84.1" y="78.1" width="3.2" height="1.5" fill="#cfdadb"/>
<rect x="85.3" y="82.8" width="2.6" height="1.3" fill="#eef3f3"/>
<rect x="86.4" y="80.8" width="1.3" height="2.6" fill="#eef3f3"/>
<rect x="88.0" y="80.0" width="1.5" height="1.1" fill="#eef3f3"/>
<rect x="86.6" y="86.5" width="2.6" height="1.7" fill="#f8fafa"/>
<rect x="84.7" y="80.0" width="1.6" height="1.4" fill="#dfe6e6"/>
<rect x="86.1" y="81.9" width="3.5" height="2.1" fill="#d8e8e4"/>
<rect x="84.0" y="77.1" width="1.4" height="1.1" fill="#c2d0d0"/>
<rect x="87.0" y="84.5" width="1.9" height="1.2" fill="#dfe6e6"/>
<rect x="89.2" y="73.9" width="1.4" height="1.5" fill="#ffffff"/>
<rect x="87.3" y="81.7" width="2.2" height="2.7" fill="#eef3f3"/>
<rect x="83.9" y="84.3" width="1.9" height="1.2" fill="#f8fafa"/>
<rect x="86.4" y="77.8" width="2.7" height="3.1" fill="#d8e8e4"/>
<rect x="86.4" y="81.2" width="2.9" height="2.5" fill="#cfdadb"/>
<rect x="84.1" y="84.3" width="2.9" height="1.1" fill="#cfdadb"/>
<rect x="87.0" y="83.5" width="2.2" height="1.1" fill="#e2dcea"/>
<rect x="86.9" y="82.8" width="2.1" height="2.9" fill="#c2d0d0"/>
<rect x="88.0" y="81.3" width="1.6" height="2.8" fill="#c2d0d0"/>
<rect x="86.5" y="79.5" width="2.4" height="1.8" fill="#ffffff"/>
<rect x="90.9" y="82.5" width="2.1" height="1.4" fill="#f8fafa"/>
<rect x="88.9" y="83.0" width="3.2" height="1.4" fill="#d8e8e4"/>
<rect x="85.3" y="82.4" width="1.9" height="1.9" fill="#cfdadb"/>
<rect x="87.3" y="77.0" width="3.5" height="1.5" fill="#d8e8e4"/>
<rect x="86.9" y="81.0" width="2.3" height="1.4" fill="#e2dcea"/>
<rect x="85.9" y="78.1" width="3.6" height="2.2" fill="#ffffff"/>
<rect x="86.7" y="79.3" width="3.3" height="1.4" fill="#dfe6e6"/>
<rect x="86.4" y="80.0" width="3.1" height="1.9" fill="#f8fafa"/>
<rect x="87.9" y="85.0" width="1.5" height="1.5" fill="#cfdadb"/>
<rect x="87.4" y="86.3" width="1.6" height="2.3" fill="#c2d0d0"/>
<rect x="89.5" y="73.8" width="1.7" height="2.6" fill="#dfe6e6"/>
<rect x="88.0" y="83.1" width="2.9" height="1.7" fill="#ffffff"/>
<rect x="89.1" y="76.6" width="2.7" height="2.4" fill="#f8fafa"/>
<rect x="89.3" y="79.4" width="2.1" height="2.8" fill="#c2d0d0"/>
<rect x="88.2" y="80.2" width="2.9" height="2.1" fill="#ffffff"/>
<rect x="89.6" y="85.4" width="1.7" height="1.3" fill="#cfdadb"/>
<rect x="91.2" y="79.4" width="1.4" height="1.4" fill="#cfdadb"/>
<rect x="90.5" y="77.7" width="3.0" height="2.3" fill="#f8fafa"/>
<rect x="89.6" y="79.0" width="2.4" height="2.2" fill="#ffffff"/>
<rect x="89.1" y="75.7" width="3.5" height="1.3" fill="#e2dcea"/>
<rect x="93.6" y="74.9" width="2.6" height="2.6" fill="#cfdadb"/>
<rect x="90.8" y="78.8" width="2.0" height="2.7" fill="#c2d0d0"/>
<rect x="90.5" y="78.5" width="2.9" height="1.9" fill="#cfdadb"/>
<rect x="90.1" y="82.1" width="3.5" height="2.0" fill="#c2d0d0"/>
<rect x="89.3" y="73.6" width="3.2" height="2.4" fill="#d8e8e4"/>
<rect x="88.4" y="79.7" width="1.8" height="2.5" fill="#f8fafa"/>
<rect x="89.1" y="80.0" width="3.5" height="2.8" fill="#e2dcea"/>
<rect x="90.9" y="82.7" width="3.1" height="1.6" fill="#e2dcea"/>
<rect x="90.9" y="81.8" width="2.1" height="2.0" fill="#cfdadb"/>
<rect x="89.9" y="78.5" width="2.9" height="2.1" fill="#d8e8e4"/>
<rect x="90.8" y="83.4" width="2.5" height="2.0" fill="#c2d0d0"/>
<rect x="90.2" y="77.9" width="2.9" height="2.3" fill="#cfdadb"/>
<rect x="89.0" y="86.7" width="2.6" height="2.7" fill="#f8fafa"/>
<rect x="92.2" y="79.0" width="3.6" height="2.9" fill="#ffffff"/>
<rect x="93.9" y="79.8" width="2.0" height="1.9" fill="#cfdadb"/>
<rect x="97.1" y="84.4" width="2.0" height="1.3" fill="#e2dcea"/>
<rect x="92.6" y="82.2" width="2.0" height="2.1" fill="#c2d0d0"/>
<rect x="93.1" y="86.8" width="1.4" height="2.1" fill="#d8e8e4"/>
<rect x="95.1" y="84.9" width="3.6" height="2.3" fill="#dfe6e6"/>
<rect x="90.4" y="72.8" width="2.4" height="2.7" fill="#c2d0d0"/>
<rect x="97.1" y="81.9" width="2.8" height="2.4" fill="#e2dcea"/>
<rect x="92.5" y="80.6" width="3.0" height="1.2" fill="#ffffff"/>
<rect x="94.4" y="78.4" width="1.7" height="2.4" fill="#f8fafa"/>
<rect x="95.7" y="85.5" width="2.0" height="2.4" fill="#ffffff"/>
<rect x="92.4" y="85.4" width="2.6" height="1.9" fill="#e2dcea"/>
<rect x="93.1" y="82.6" width="2.6" height="2.4" fill="#ffffff"/>
<rect x="96.8" y="75.8" width="2.4" height="2.1" fill="#f8fafa"/>
<rect x="95.5" y="81.7" width="2.7" height="1.4" fill="#cfdadb"/>
<rect x="93.6" y="85.9" width="3.5" height="1.3" fill="#eef3f3"/>
<rect x="94.7" y="77.7" width="1.8" height="1.9" fill="#eef3f3"/>
<rect x="98.1" y="72.8" width="3.1" height="2.0" fill="#e2dcea"/>
<rect x="96.8" y="80.0" width="2.9" height="3.0" fill="#dfe6e6"/>
<rect x="93.6" y="81.7" width="3.2" height="3.0" fill="#f8fafa"/>
<rect x="96.0" y="79.8" width="3.1" height="2.5" fill="#cfdadb"/>
<rect x="94.3" y="80.9" width="2.5" height="2.0" fill="#f8fafa"/>
<rect x="100.9" y="77.7" width="2.7" height="2.8" fill="#eef3f3"/>
<rect x="96.0" y="75.9" width="2.8" height="2.3" fill="#ffffff"/>
<rect x="98.3" y="78.5" width="2.8" height="1.7" fill="#c2d0d0"/>
<rect x="93.6" y="78.9" width="3.3" height="1.6" fill="#d8e8e4"/>
<rect x="96.0" y="77.5" width="2.6" height="2.3" fill="#ffffff"/>
<rect x="95.7" y="82.4" width="2.3" height="1.6" fill="#cfdadb"/>
<rect x="98.0" y="88.2" width="2.6" height="1.3" fill="#e2dcea"/>
<rect x="95.6" y="77.3" width="2.8" height="2.6" fill="#cfdadb"/>
<rect x="95.2" y="79.1" width="2.6" height="1.3" fill="#dfe6e6"/>
<rect x="97.8" y="75.0" width="3.1" height="1.4" fill="#dfe6e6"/>
<rect x="93.3" y="72.1" width="2.5" height="2.1" fill="#ffffff"/>
<rect x="92.3" y="76.7" width="1.7" height="2.1" fill="#dfe6e6"/>
<rect x="99.0" y="85.6" width="1.4" height="1.6" fill="#c2d0d0"/>
<rect x="98.7" y="81.5" width="3.5" height="2.1" fill="#dfe6e6"/>
<rect x="98.3" y="73.3" width="3.3" height="2.4" fill="#cfdadb"/>
<rect x="95.1" y="74.4" width="3.3" height="1.5" fill="#c2d0d0"/>
<rect x="101.0" y="78.0" width="1.9" height="2.2" fill="#c2d0d0"/>
<rect x="99.1" y="76.9" width="2.7" height="1.3" fill="#c2d0d0"/>
<rect x="99.1" y="75.6" width="3.4" height="2.5" fill="#e2dcea"/>
<rect x="98.1" y="82.4" width="1.3" height="3.2" fill="#d8e8e4"/>
<rect x="100.0" y="78.0" width="1.6" height="2.8" fill="#f8fafa"/>
<rect x="101.3" y="85.5" width="3.3" height="2.5" fill="#f8fafa"/>
<rect x="97.5" y="75.8" width="3.6" height="2.7" fill="#e2dcea"/>
<rect x="99.7" y="77.9" width="2.1" height="1.4" fill="#d8e8e4"/>
<rect x="102.1" y="72.6" width="1.4" height="1.5" fill="#ffffff"/>
<rect x="98.9" y="72.9" width="1.8" height="3.1" fill="#dfe6e6"/>
<rect x="98.1" y="82.1" width="2.0" height="1.4" fill="#eef3f3"/>
<rect x="99.8" y="85.5" width="3.0" height="1.8" fill="#d8e8e4"/>
<rect x="98.6" y="80.2" width="1.3" height="2.3" fill="#c2d0d0"/>
<rect x="99.0" y="80.8" width="3.3" height="2.4" fill="#f8fafa"/>
<rect x="99.3" y="75.8" width="2.2" height="1.2" fill="#e2dcea"/>
<rect x="100.6" y="85.4" width="2.6" height="1.4" fill="#eef3f3"/>
<rect x="106.0" y="76.4" width="1.5" height="1.5" fill="#ffffff"/>
<rect x="100.6" y="76.5" width="2.1" height="1.7" fill="#cfdadb"/>
<rect x="104.9" y="73.7" width="2.9" height="1.7" fill="#c2d0d0"/>
<rect x="101.8" y="75.8" width="2.8" height="1.8" fill="#ffffff"/>
<rect x="100.5" y="86.0" width="2.8" height="3.0" fill="#d8e8e4"/>
<rect x="98.0" y="80.0" width="3.2" height="3.2" fill="#f8fafa"/>
<rect x="101.9" y="81.1" width="3.3" height="2.1" fill="#d8e8e4"/>
<rect x="99.2" y="85.1" width="3.4" height="2.3" fill="#f8fafa"/>
<rect x="101.4" y="84.1" width="3.0" height="2.3" fill="#c2d0d0"/>
<rect x="102.7" y="81.8" width="3.4" height="2.3" fill="#e2dcea"/>
<rect x="97.6" y="74.3" width="2.1" height="2.7" fill="#ffffff"/>
<rect x="103.4" y="77.1" width="1.7" height="3.0" fill="#eef3f3"/>
<rect x="102.6" y="75.3" width="1.8" height="1.1" fill="#eef3f3"/>
<rect x="101.1" y="82.0" width="2.7" height="2.9" fill="#dfe6e6"/>
<rect x="102.6" y="87.1" width="3.5" height="2.4" fill="#dfe6e6"/>
<rect x="105.0" y="84.0" width="2.6" height="2.6" fill="#eef3f3"/>
<rect x="102.6" y="85.4" width="3.3" height="2.4" fill="#eef3f3"/>
<rect x="105.6" y="85.2" width="3.0" height="2.5" fill="#ffffff"/>
<rect x="103.4" y="76.4" width="1.7" height="2.9" fill="#eef3f3"/>
<rect x="107.3" y="84.2" width="3.1" height="3.2" fill="#ffffff"/>
<rect x="106.0" y="85.9" width="1.3" height="3.0" fill="#c2d0d0"/>
<rect x="107.6" y="83.8" width="3.0" height="1.8" fill="#dfe6e6"/>
<rect x="106.7" y="81.6" width="2.5" height="2.9" fill="#c2d0d0"/>
<rect x="106.2" y="77.4" width="2.5" height="2.3" fill="#f8fafa"/>
<rect x="104.4" y="76.6" width="2.1" height="2.7" fill="#e2dcea"/>
<rect x="106.9" y="77.0" width="1.4" height="2.5" fill="#d8e8e4"/>
<rect x="103.9" y="80.4" width="2.5" height="1.7" fill="#e2dcea"/>
<rect x="107.4" y="81.6" width="2.8" height="2.7" fill="#c2d0d0"/>
<rect x="107.1" y="86.0" width="2.2" height="3.2" fill="#eef3f3"/>
<rect x="104.8" y="80.4" width="2.5" height="1.5" fill="#f8fafa"/>
<rect x="105.1" y="87.0" width="3.0" height="3.0" fill="#f8fafa"/>
<rect x="103.6" y="81.0" width="2.9" height="2.0" fill="#d8e8e4"/>
<rect x="107.3" y="78.9" width="1.8" height="2.8" fill="#eef3f3"/>
<rect x="108.3" y="85.8" width="1.5" height="2.5" fill="#ffffff"/>
<rect x="105.1" y="78.3" width="1.8" height="1.9" fill="#ffffff"/>
<rect x="108.2" y="79.9" width="1.8" height="1.6" fill="#e2dcea"/>
<rect x="107.5" y="76.6" width="2.1" height="1.8" fill="#ffffff"/>
<rect x="106.1" y="77.0" width="3.6" height="1.6" fill="#f8fafa"/>
<rect x="103.2" y="80.4" width="3.1" height="3.1" fill="#f8fafa"/>
<rect x="108.5" y="76.4" width="2.1" height="2.1" fill="#cfdadb"/>
<rect x="109.0" y="85.0" width="2.7" height="2.1" fill="#eef3f3"/>
<rect x="108.1" y="77.7" width="3.3" height="1.9" fill="#d8e8e4"/>
<rect x="108.6" y="87.4" width="3.6" height="1.7" fill="#eef3f3"/>
<rect x="107.5" y="77.6" width="3.4" height="1.4" fill="#e2dcea"/>
<rect x="109.8" y="85.5" width="1.5" height="1.5" fill="#ffffff"/>
<rect x="108.5" y="81.3" width="3.4" height="2.6" fill="#c2d0d0"/>
<rect x="108.4" y="79.0" width="1.8" height="2.8" fill="#eef3f3"/>
<rect x="110.0" y="80.7" width="1.8" height="2.0" fill="#dfe6e6"/>
<rect x="107.1" y="78.6" width="3.4" height="1.2" fill="#dfe6e6"/>
<rect x="109.6" y="82.9" width="1.6" height="2.0" fill="#f8fafa"/>
<rect x="107.9" y="84.7" width="2.8" height="2.2" fill="#dfe6e6"/>
<rect x="103.7" y="78.4" width="3.5" height="1.3" fill="#cfdadb"/>
<rect x="107.5" y="81.6" width="2.9" height="1.1" fill="#e2dcea"/>
<rect x="108.1" y="80.1" width="2.5" height="2.0" fill="#c2d0d0"/>
<rect x="108.0" y="83.3" width="1.4" height="2.1" fill="#e2dcea"/>
<rect x="79.5" y="76.9" width="1.8" height="1.7" fill="#0d0c0b" opacity="0.60"/>
<rect x="62.9" y="71.0" width="1.3" height="2.0" fill="#0d0c0b" opacity="0.59"/>
<rect x="67.7" y="78.7" width="2.0" height="0.8" fill="#0d0c0b" opacity="0.70"/>
<rect x="106.7" y="81.9" width="1.1" height="1.5" fill="#0d0c0b" opacity="0.59"/>
<rect x="57.3" y="80.7" width="1.8" height="1.7" fill="#0d0c0b" opacity="0.85"/>
<rect x="43.6" y="81.6" width="1.6" height="1.2" fill="#0d0c0b" opacity="0.72"/>
<rect x="79.5" y="76.8" width="0.8" height="1.7" fill="#0d0c0b" opacity="0.83"/>
<rect x="76.7" y="89.0" width="1.5" height="2.0" fill="#0d0c0b" opacity="0.52"/>
<rect x="85.3" y="80.4" width="1.7" height="1.3" fill="#0d0c0b" opacity="0.66"/>
<rect x="84.1" y="77.2" width="1.6" height="1.2" fill="#0d0c0b" opacity="0.71"/>
<rect x="79.1" y="81.3" width="1.1" height="1.9" fill="#0d0c0b" opacity="0.64"/>
<rect x="92.0" y="85.4" width="1.4" height="1.4" fill="#0d0c0b" opacity="0.51"/>
<rect x="50.2" y="83.9" width="1.4" height="1.4" fill="#0d0c0b" opacity="0.81"/>
<rect x="57.2" y="78.3" width="1.0" height="1.8" fill="#0d0c0b" opacity="0.63"/>
<rect x="86.1" y="84.1" width="1.8" height="0.9" fill="#0d0c0b" opacity="0.59"/>
<rect x="99.9" y="74.2" width="1.8" height="0.9" fill="#0d0c0b" opacity="0.48"/>
<rect x="58.1" y="82.8" width="1.8" height="1.4" fill="#0d0c0b" opacity="0.63"/>
<rect x="46.3" y="82.0" width="1.3" height="2.0" fill="#0d0c0b" opacity="0.75"/>
<rect x="72.4" y="74.2" width="1.7" height="1.0" fill="#0d0c0b" opacity="0.74"/>
<rect x="66.4" y="81.2" width="1.4" height="1.1" fill="#0d0c0b" opacity="0.59"/>
<rect x="64.5" y="79.8" width="1.0" height="1.5" fill="#0d0c0b" opacity="0.43"/>
<rect x="52.8" y="80.5" width="1.7" height="1.1" fill="#0d0c0b" opacity="0.56"/>
<rect x="57.4" y="80.9" width="1.6" height="1.8" fill="#0d0c0b" opacity="0.50"/>
<rect x="70.5" y="79.0" width="1.8" height="1.5" fill="#0d0c0b" opacity="0.59"/>
<rect x="43.2" y="76.8" width="1.7" height="1.2" fill="#0d0c0b" opacity="0.60"/>
<rect x="86.7" y="81.8" width="1.8" height="1.2" fill="#0d0c0b" opacity="0.59"/>
<rect x="81.7" y="82.6" width="2.0" height="1.7" fill="#0d0c0b" opacity="0.59"/>
<rect x="87.9" y="79.6" width="1.2" height="0.9" fill="#0d0c0b" opacity="0.78"/>
<rect x="67.3" y="76.3" width="1.9" height="1.7" fill="#0d0c0b" opacity="0.41"/>
<rect x="82.7" y="79.9" width="1.4" height="1.4" fill="#0d0c0b" opacity="0.82"/>
<rect x="69.9" y="73.1" width="1.3" height="1.4" fill="#0d0c0b" opacity="0.66"/>
<rect x="99.4" y="82.0" width="1.6" height="1.7" fill="#0d0c0b" opacity="0.60"/>
<rect x="42.9" y="78.1" width="1.7" height="1.7" fill="#0d0c0b" opacity="0.46"/>
<rect x="55.9" y="76.1" width="0.9" height="1.8" fill="#0d0c0b" opacity="0.45"/>
<rect x="46.4" y="80.1" width="0.9" height="1.6" fill="#0d0c0b" opacity="0.76"/>
<rect x="74.8" y="75.9" width="0.9" height="1.6" fill="#0d0c0b" opacity="0.61"/>
<rect x="82.0" y="87.0" width="1.8" height="1.0" fill="#0d0c0b" opacity="0.57"/>
<rect x="77.3" y="80.4" width="0.8" height="2.0" fill="#0d0c0b" opacity="0.54"/>
<rect x="58.9" y="79.2" width="1.8" height="1.5" fill="#0d0c0b" opacity="0.66"/>
<rect x="70.3" y="82.8" width="0.9" height="1.2" fill="#0d0c0b" opacity="0.83"/>
<rect x="97.7" y="82.4" width="1.0" height="0.9" fill="#0d0c0b" opacity="0.67"/>
<rect x="66.9" y="78.2" width="1.4" height="1.4" fill="#0d0c0b" opacity="0.69"/>
<rect x="66.3" y="81.0" width="1.9" height="1.5" fill="#0d0c0b" opacity="0.43"/>
<rect x="62.6" y="78.0" width="1.4" height="1.3" fill="#0d0c0b" opacity="0.68"/>
<rect x="63.3" y="79.3" width="1.1" height="1.7" fill="#0d0c0b" opacity="0.80"/>
<rect x="82.6" y="86.7" width="1.3" height="1.9" fill="#0d0c0b" opacity="0.62"/>
<rect x="103.2" y="84.3" width="1.6" height="0.9" fill="#0d0c0b" opacity="0.83"/>
<rect x="45.2" y="81.3" width="1.5" height="1.0" fill="#0d0c0b" opacity="0.86"/>
<rect x="80.4" y="81.8" width="1.6" height="1.6" fill="#0d0c0b" opacity="0.55"/>
<rect x="55.2" y="76.2" width="1.8" height="1.0" fill="#0d0c0b" opacity="0.86"/>
<rect x="54.9" y="81.4" width="1.7" height="1.9" fill="#0d0c0b" opacity="0.61"/>
<rect x="87.4" y="81.5" width="1.1" height="1.9" fill="#0d0c0b" opacity="0.74"/>
<rect x="51.1" y="85.1" width="0.9" height="1.8" fill="#0d0c0b" opacity="0.55"/>
<rect x="56.8" y="82.0" width="1.5" height="1.2" fill="#0d0c0b" opacity="0.68"/>
<rect x="51.1" y="82.7" width="1.8" height="1.0" fill="#0d0c0b" opacity="0.80"/>
<rect x="110.6" y="79.3" width="1.3" height="0.8" fill="#0d0c0b" opacity="0.59"/>
<rect x="86.1" y="81.3" width="0.9" height="1.4" fill="#0d0c0b" opacity="0.76"/>
<rect x="70.9" y="84.7" width="1.6" height="0.9" fill="#0d0c0b" opacity="0.81"/>
<rect x="48.8" y="90.4" width="1.9" height="1.4" fill="#0d0c0b" opacity="0.55"/>
<rect x="65.1" y="74.9" width="1.7" height="1.4" fill="#0d0c0b" opacity="0.86"/>
</g>
<g filter="url(#b2)">
<ellipse cx="98.5" cy="82.0" rx="9.60" ry="8.00" fill="#dde4e4"/>
<ellipse cx="93.0" cy="81.8" rx="3.0" ry="2.5" fill="#bfc9c9"/>
<ellipse cx="99.6" cy="85.1" rx="1.9" ry="1.6" fill="#d2d6de"/>
<ellipse cx="95.4" cy="86.7" rx="3.0" ry="2.5" fill="#c9d2d2"/>
<ellipse cx="99.6" cy="79.6" rx="2.5" ry="2.1" fill="#f2f5f5"/>
<ellipse cx="104.8" cy="80.1" rx="3.1" ry="2.6" fill="#e8ecec"/>
<ellipse cx="92.5" cy="80.0" rx="2.3" ry="2.0" fill="#c9d2d2"/>
<ellipse cx="96.2" cy="80.4" rx="1.8" ry="1.5" fill="#e8ecec"/>
<circle cx="101.8" cy="74.9" r="1.4" fill="#0d0c0b"/>
<ellipse cx="116" cy="82.0" rx="9.60" ry="8.00" fill="#dde4e4"/>
<ellipse cx="115.4" cy="85.0" rx="1.8" ry="1.5" fill="#c9d2d2"/>
<ellipse cx="117.3" cy="81.5" rx="1.7" ry="1.4" fill="#bfc9c9"/>
<ellipse cx="117.1" cy="81.0" rx="2.7" ry="2.3" fill="#d2d6de"/>
<ellipse cx="117.0" cy="80.2" rx="2.2" ry="1.9" fill="#c9d2d2"/>
<ellipse cx="114.1" cy="84.0" rx="1.7" ry="1.5" fill="#f2f5f5"/>
<ellipse cx="120.6" cy="86.5" rx="2.4" ry="2.0" fill="#c9d2d2"/>
<ellipse cx="112.8" cy="77.3" rx="2.0" ry="1.7" fill="#c9d2d2"/>
<circle cx="106.9" cy="82.2" r="1.2" fill="#0d0c0b"/>
<ellipse cx="133.5" cy="82.0" rx="9.60" ry="8.00" fill="#dde4e4"/>
<ellipse cx="128.4" cy="81.6" rx="1.9" ry="1.6" fill="#bfc9c9"/>
<ellipse cx="127.3" cy="79.1" rx="3.1" ry="2.7" fill="#e8ecec"/>
<ellipse cx="132.2" cy="78.4" rx="1.8" ry="1.5" fill="#c9d2d2"/>
<ellipse cx="136.5" cy="82.4" rx="2.0" ry="1.7" fill="#f2f5f5"/>
<ellipse cx="127.0" cy="87.3" rx="2.4" ry="2.0" fill="#bfc9c9"/>
<ellipse cx="129.6" cy="84.9" rx="1.7" ry="1.5" fill="#c9d2d2"/>
<ellipse cx="128.8" cy="79.2" rx="1.6" ry="1.4" fill="#d2d6de"/>
<circle cx="127.0" cy="76.7" r="0.9" fill="#0d0c0b"/>
<ellipse cx="151" cy="82.0" rx="9.60" ry="8.00" fill="#dde4e4"/>
<ellipse cx="151.9" cy="77.4" rx="2.7" ry="2.3" fill="#c9d2d2"/>
<ellipse cx="147.4" cy="83.1" rx="2.9" ry="2.4" fill="#f2f5f5"/>
<ellipse cx="155.3" cy="76.9" rx="2.1" ry="1.8" fill="#f2f5f5"/>
<ellipse cx="144.8" cy="83.4" rx="2.7" ry="2.3" fill="#e8ecec"/>
<ellipse cx="148.9" cy="85.7" rx="2.3" ry="2.0" fill="#c9d2d2"/>
<ellipse cx="144.4" cy="87.3" rx="2.3" ry="1.9" fill="#d2d6de"/>
<ellipse cx="144.7" cy="85.5" rx="1.8" ry="1.6" fill="#bfc9c9"/>
<circle cx="147.0" cy="75.2" r="0.9" fill="#0d0c0b"/>
<ellipse cx="168" cy="82.0" rx="9.60" ry="8.00" fill="#dde4e4"/>
<ellipse cx="165.9" cy="77.7" rx="1.9" ry="1.6" fill="#c9d2d2"/>
<ellipse cx="170.5" cy="84.5" rx="1.7" ry="1.5" fill="#f2f5f5"/>
<ellipse cx="171.9" cy="81.8" rx="2.4" ry="2.0" fill="#e8ecec"/>
<ellipse cx="173.5" cy="85.0" rx="2.6" ry="2.2" fill="#c9d2d2"/>
<ellipse cx="172.9" cy="76.6" rx="2.2" ry="1.9" fill="#d2d6de"/>
<ellipse cx="162.5" cy="84.6" rx="2.2" ry="1.8" fill="#c9d2d2"/>
<ellipse cx="172.1" cy="81.9" rx="2.8" ry="2.4" fill="#d2d6de"/>
<circle cx="174.0" cy="87.7" r="1.5" fill="#0d0c0b"/>
<ellipse cx="185.5" cy="82.0" rx="9.60" ry="8.00" fill="#dde4e4"/>
<ellipse cx="191.4" cy="86.9" rx="2.8" ry="2.4" fill="#bfc9c9"/>
<ellipse cx="181.0" cy="80.6" rx="2.6" ry="2.2" fill="#bfc9c9"/>
<ellipse cx="182.8" cy="87.5" rx="2.5" ry="2.1" fill="#f2f5f5"/>
<ellipse cx="179.7" cy="85.4" rx="2.9" ry="2.5" fill="#c9d2d2"/>
<ellipse cx="182.0" cy="83.1" rx="2.5" ry="2.1" fill="#d2d6de"/>
<ellipse cx="186.5" cy="87.2" rx="3.0" ry="2.6" fill="#f2f5f5"/>
<ellipse cx="184.0" cy="85.4" rx="2.9" ry="2.4" fill="#e8ecec"/>
<circle cx="189.7" cy="75.2" r="1.1" fill="#0d0c0b"/>
<ellipse cx="203" cy="81.9" rx="9.60" ry="7.40" fill="#dde4e4"/>
<ellipse cx="197.5" cy="83.6" rx="2.9" ry="2.5" fill="#e8ecec"/>
<ellipse cx="205.2" cy="86.4" rx="2.3" ry="1.9" fill="#e8ecec"/>
<ellipse cx="196.3" cy="81.8" rx="1.6" ry="1.4" fill="#f2f5f5"/>
<ellipse cx="208.1" cy="81.6" rx="2.3" ry="1.9" fill="#e8ecec"/>
<ellipse cx="202.4" cy="80.1" rx="1.9" ry="1.7" fill="#e8ecec"/>
<ellipse cx="201.6" cy="81.5" rx="1.7" ry="1.4" fill="#e8ecec"/>
<ellipse cx="197.5" cy="79.4" rx="2.7" ry="2.3" fill="#d2d6de"/>
<circle cx="195.4" cy="85.8" r="1.2" fill="#0d0c0b"/>
<ellipse cx="220.3" cy="81.9" rx="9.60" ry="7.40" fill="#dde4e4"/>
<ellipse cx="216.8" cy="78.8" rx="2.6" ry="2.2" fill="#d2d6de"/>
<ellipse cx="224.6" cy="78.4" rx="2.0" ry="1.7" fill="#c9d2d2"/>
<ellipse cx="218.5" cy="78.8" rx="3.0" ry="2.6" fill="#bfc9c9"/>
<ellipse cx="225.4" cy="87.0" rx="2.1" ry="1.8" fill="#e8ecec"/>
<ellipse cx="226.4" cy="82.0" rx="3.2" ry="2.7" fill="#c9d2d2"/>
<ellipse cx="225.1" cy="87.1" rx="2.2" ry="1.9" fill="#f2f5f5"/>
<ellipse cx="213.6" cy="78.3" rx="3.1" ry="2.6" fill="#d2d6de"/>
<circle cx="211.9" cy="79.1" r="1.3" fill="#0d0c0b"/>
<ellipse cx="237.8" cy="81.9" rx="8.90" ry="7.40" fill="#dde4e4"/>
<ellipse cx="240.7" cy="83.9" rx="3.2" ry="2.7" fill="#bfc9c9"/>
<ellipse cx="239.9" cy="77.8" rx="2.8" ry="2.4" fill="#e8ecec"/>
<ellipse cx="239.9" cy="77.2" rx="2.6" ry="2.2" fill="#d2d6de"/>
<ellipse cx="234.9" cy="79.6" rx="2.1" ry="1.8" fill="#d2d6de"/>
<ellipse cx="243.3" cy="85.3" rx="1.7" ry="1.4" fill="#d2d6de"/>
<ellipse cx="237.7" cy="84.0" rx="1.6" ry="1.4" fill="#f2f5f5"/>
<ellipse cx="238.5" cy="81.3" rx="2.8" ry="2.4" fill="#c9d2d2"/>
<circle cx="236.7" cy="74.9" r="1.4" fill="#0d0c0b"/>
<circle cx="246.1" cy="83.4" r="1.1" fill="#0d0c0b"/>
<circle cx="243.3" cy="87.2" r="1.6" fill="#0d0c0b"/>
<ellipse cx="255.4" cy="81.9" rx="8.55" ry="7.40" fill="#dde4e4"/>
<ellipse cx="260.1" cy="78.0" rx="2.5" ry="2.2" fill="#bfc9c9"/>
<ellipse cx="255.5" cy="87.4" rx="1.9" ry="1.6" fill="#bfc9c9"/>
<ellipse cx="257.1" cy="79.5" rx="2.8" ry="2.4" fill="#e8ecec"/>
<ellipse cx="258.7" cy="76.6" rx="2.5" ry="2.1" fill="#d2d6de"/>
<ellipse cx="257.2" cy="85.3" rx="2.7" ry="2.3" fill="#d2d6de"/>
<ellipse cx="255.3" cy="87.2" rx="2.2" ry="1.8" fill="#e8ecec"/>
<ellipse cx="253.3" cy="85.6" rx="2.4" ry="2.0" fill="#f2f5f5"/>
<circle cx="257.6" cy="75.1" r="1.1" fill="#0d0c0b"/>
<circle cx="260.6" cy="87.3" r="1.2" fill="#0d0c0b"/>
<circle cx="261.2" cy="77.0" r="0.9" fill="#0d0c0b"/>
<ellipse cx="272.9" cy="81.9" rx="8.20" ry="7.15" fill="#dde4e4"/>
<ellipse cx="275.6" cy="78.4" rx="2.1" ry="1.8" fill="#f2f5f5"/>
<ellipse cx="273.9" cy="87.0" rx="2.8" ry="2.4" fill="#e8ecec"/>
<ellipse cx="278.2" cy="78.5" rx="2.1" ry="1.8" fill="#d2d6de"/>
<ellipse cx="269.4" cy="80.0" rx="2.3" ry="2.0" fill="#f2f5f5"/>
<ellipse cx="275.0" cy="80.4" rx="2.1" ry="1.8" fill="#d2d6de"/>
<ellipse cx="270.2" cy="78.7" rx="3.1" ry="2.6" fill="#d2d6de"/>
<ellipse cx="272.9" cy="80.9" rx="1.9" ry="1.6" fill="#e8ecec"/>
<circle cx="280.4" cy="83.8" r="1.0" fill="#0d0c0b"/>
<circle cx="265.3" cy="80.4" r="1.3" fill="#0d0c0b"/>
<circle cx="277.4" cy="76.3" r="1.1" fill="#0d0c0b"/>
<ellipse cx="289.7" cy="81.9" rx="7.85" ry="6.90" fill="#dde4e4"/>
<ellipse cx="285.0" cy="80.8" rx="2.7" ry="2.3" fill="#d2d6de"/>
<ellipse cx="290.0" cy="79.7" rx="2.6" ry="2.2" fill="#e8ecec"/>
<ellipse cx="289.1" cy="76.8" rx="2.5" ry="2.1" fill="#bfc9c9"/>
<ellipse cx="287.6" cy="83.0" rx="2.2" ry="1.8" fill="#c9d2d2"/>
<ellipse cx="293.9" cy="85.8" rx="1.8" ry="1.5" fill="#bfc9c9"/>
<ellipse cx="291.7" cy="81.0" rx="2.9" ry="2.5" fill="#f2f5f5"/>
<ellipse cx="294.4" cy="78.4" rx="1.9" ry="1.6" fill="#f2f5f5"/>
<circle cx="290.8" cy="75.4" r="1.1" fill="#0d0c0b"/>
<circle cx="296.6" cy="79.5" r="1.4" fill="#0d0c0b"/>
<circle cx="285.6" cy="87.4" r="1.1" fill="#0d0c0b"/>
<ellipse cx="307.3" cy="81.9" rx="7.50" ry="6.65" fill="#dde4e4"/>
<ellipse cx="310.5" cy="80.4" rx="1.9" ry="1.6" fill="#c9d2d2"/>
<ellipse cx="307.6" cy="82.1" rx="2.7" ry="2.3" fill="#e8ecec"/>
<ellipse cx="303.5" cy="80.3" rx="1.7" ry="1.4" fill="#d2d6de"/>
<ellipse cx="302.8" cy="76.9" rx="2.5" ry="2.1" fill="#c9d2d2"/>
<ellipse cx="308.1" cy="80.9" rx="2.5" ry="2.1" fill="#e8ecec"/>
<ellipse cx="310.3" cy="83.7" rx="3.0" ry="2.5" fill="#c9d2d2"/>
<ellipse cx="303.6" cy="83.6" rx="2.8" ry="2.4" fill="#bfc9c9"/>
<circle cx="312.3" cy="86.4" r="1.0" fill="#0d0c0b"/>
<circle cx="314.3" cy="83.2" r="1.6" fill="#0d0c0b"/>
<circle cx="313.7" cy="79.2" r="1.1" fill="#0d0c0b"/>
<ellipse cx="324.8" cy="81.9" rx="7.15" ry="6.40" fill="#dde4e4"/>
<ellipse cx="322.7" cy="83.3" rx="3.0" ry="2.6" fill="#d2d6de"/>
<ellipse cx="325.9" cy="79.7" rx="1.7" ry="1.5" fill="#bfc9c9"/>
<ellipse cx="325.8" cy="82.0" rx="2.6" ry="2.2" fill="#c9d2d2"/>
<ellipse cx="322.9" cy="80.6" rx="2.5" ry="2.1" fill="#f2f5f5"/>
<ellipse cx="323.4" cy="83.8" rx="1.7" ry="1.5" fill="#e8ecec"/>
<ellipse cx="322.0" cy="81.5" rx="2.8" ry="2.4" fill="#d2d6de"/>
<ellipse cx="322.5" cy="77.7" rx="2.3" ry="2.0" fill="#bfc9c9"/>
<circle cx="319.2" cy="78.5" r="0.8" fill="#0d0c0b"/>
<circle cx="318.2" cy="80.5" r="1.2" fill="#0d0c0b"/>
<circle cx="318.0" cy="82.5" r="1.0" fill="#0d0c0b"/>
<ellipse cx="342.1" cy="81.9" rx="6.80" ry="6.15" fill="#dde4e4"/>
<ellipse cx="346.3" cy="86.2" rx="2.4" ry="2.1" fill="#c9d2d2"/>
<ellipse cx="339.4" cy="84.6" rx="1.9" ry="1.6" fill="#bfc9c9"/>
<ellipse cx="342.5" cy="77.6" rx="2.8" ry="2.4" fill="#f2f5f5"/>
<ellipse cx="345.1" cy="79.8" rx="2.2" ry="1.9" fill="#e8ecec"/>
<ellipse cx="344.2" cy="82.7" rx="2.2" ry="1.9" fill="#bfc9c9"/>
<ellipse cx="346.4" cy="81.1" rx="2.7" ry="2.3" fill="#f2f5f5"/>
<ellipse cx="345.0" cy="86.2" rx="2.1" ry="1.8" fill="#e8ecec"/>
<circle cx="347.9" cy="84.4" r="1.2" fill="#0d0c0b"/>
<circle cx="346.4" cy="86.3" r="1.2" fill="#0d0c0b"/>
<circle cx="339.4" cy="76.6" r="1.4" fill="#0d0c0b"/>
<ellipse cx="360.6" cy="83.1" rx="5.8" ry="5.51" fill="#cdd4d3"/>
<ellipse cx="360.6" cy="83.1" rx="2.61" ry="2.61" fill="#a9b3ae"/>
<ellipse cx="379.2" cy="83.1" rx="5.0" ry="4.75" fill="#cdd4d3"/>
<ellipse cx="379.2" cy="83.1" rx="2.25" ry="2.25" fill="#a9b3ae"/>
<ellipse cx="396.8" cy="83.1" rx="4.4" ry="4.18" fill="#cdd4d3"/>
<ellipse cx="396.8" cy="83.1" rx="1.98" ry="1.98" fill="#a9b3ae"/>
<ellipse cx="414.4" cy="83.1" rx="4.0" ry="3.80" fill="#cdd4d3"/>
<ellipse cx="414.4" cy="83.1" rx="1.80" ry="1.80" fill="#a9b3ae"/>
<ellipse cx="432.2" cy="83.1" rx="3.5" ry="3.32" fill="#cdd4d3"/>
<ellipse cx="432.2" cy="83.1" rx="1.57" ry="1.57" fill="#a9b3ae"/>
<ellipse cx="450.3" cy="83.1" rx="3.1" ry="2.94" fill="#cdd4d3"/>
<ellipse cx="450.3" cy="83.1" rx="1.40" ry="1.40" fill="#a9b3ae"/>
<ellipse cx="467.9" cy="83.1" rx="2.9" ry="2.75" fill="#cdd4d3"/>
<ellipse cx="486.3" cy="83.1" rx="2.7" ry="2.56" fill="#cdd4d3"/>
<ellipse cx="504" cy="83.1" rx="2.5" ry="2.38" fill="#cdd4d3"/>
<ellipse cx="522.1" cy="83.1" rx="2.2" ry="2.09" fill="#cdd4d3"/>
<ellipse cx="540" cy="83.1" rx="1.9" ry="1.80" fill="#cdd4d3"/>
</g>
<circle cx="144" cy="95.5" r="0.8" fill="#9ab"/>
<circle cx="155" cy="94.6" r="0.9" fill="#cfe4ea"/>
<circle cx="100.5" cy="82" r="0.8" fill="#9cb8a8"/>
<text class="serif" x="95.2" y="67.9" font-size="24.2">dz</text>
<text class="serif" x="118.2" y="76.6" font-size="13.9">L</text>
<text class="serif" x="126.3" y="67.9" font-size="24.2">&lt;0</text>
<text class="serif" x="253.3" y="67.9" font-size="24.2">dz</text>
<text class="serif" x="277.0" y="76.6" font-size="13.9">L</text>
<text class="serif" x="285.6" y="67.9" font-size="24.2">=0</text>
<text class="serif" x="407.2" y="67.9" font-size="24.2">dz</text>
<text class="serif" x="430.2" y="76.6" font-size="13.9">L</text>
<text class="serif" x="440.2" y="67.9" font-size="24.2">&gt;0</text>
<g stroke="#fff" fill="#fff" stroke-linecap="round" stroke-linejoin="round">
<path d="M243.7 60.5H163" stroke-width="2.2"/><path d="M158.4 60.5L174.4 54.8L175.2 56.6L163.4 60.5L175.2 64.4L174.4 66.2Z" stroke-width="0.7"/>
<path d="M316.8 60.5H394" stroke-width="2.2"/><path d="M398.6 60.5L382.6 54.8L381.8 56.6L393.6 60.5L381.8 64.4L382.6 66.2Z" stroke-width="0.7"/>
</g>
</g>
<text x="0" y="0" font-size="18.3" transform="translate(577.8 23.6) scale(1.11 1)">Air</text>
<text x="0" y="0" font-size="18.3" transform="translate(564.4 90.6) scale(1.11 1)">Water</text>
<g id="chart">
<path d="M95.25 268.25L106.75 279.00L118.00 283.50L129.25 293.00L140.75 292.00L152.25 317.50L163.75 378.25L175.25 389.50L186.50 400.00L198.00 417.00L209.50 394.50L220.50 351.75L231.80 341.00L243.20 336.70L254.80 300.20L266.30 307.00L278.00 276.25L289.25 247.50L300.75 277.20L312.30 280.50" fill="none" stroke="#E30613" stroke-width="1.7" stroke-linejoin="round"/>
<rect x="89.75" y="262.75" width="11.0" height="11.0" fill="#E30613"/>
<rect x="101.25" y="273.50" width="11.0" height="11.0" fill="#E30613"/>
<rect x="112.50" y="278.00" width="11.0" height="11.0" fill="#E30613"/>
<rect x="123.75" y="287.50" width="11.0" height="11.0" fill="#E30613"/>
<rect x="135.25" y="286.50" width="11.0" height="11.0" fill="#E30613"/>
<rect x="146.75" y="312.00" width="11.0" height="11.0" fill="#E30613"/>
<rect x="158.25" y="372.75" width="11.0" height="11.0" fill="#E30613"/>
<rect x="169.75" y="384.00" width="11.0" height="11.0" fill="#E30613"/>
<rect x="181.00" y="394.50" width="11.0" height="11.0" fill="#E30613"/>
<rect x="192.50" y="411.50" width="11.0" height="11.0" fill="#E30613"/>
<rect x="204.00" y="389.00" width="11.0" height="11.0" fill="#E30613"/>
<rect x="215.00" y="346.25" width="11.0" height="11.0" fill="#E30613"/>
<rect x="226.30" y="335.50" width="11.0" height="11.0" fill="#E30613"/>
<rect x="237.70" y="331.20" width="11.0" height="11.0" fill="#E30613"/>
<rect x="249.30" y="294.70" width="11.0" height="11.0" fill="#E30613"/>
<rect x="260.80" y="301.50" width="11.0" height="11.0" fill="#E30613"/>
<rect x="272.50" y="270.75" width="11.0" height="11.0" fill="#E30613"/>
<rect x="283.75" y="242.00" width="11.0" height="11.0" fill="#E30613"/>
<rect x="295.25" y="271.70" width="11.0" height="11.0" fill="#E30613"/>
<rect x="306.80" y="275.00" width="11.0" height="11.0" fill="#E30613"/>
<path d="M195.25 313.90L206.60 326.50L217.90 340.60L229.30 358.50L240.75 372.50L252.25 384.80L263.50 400.75L275.00 402.50L286.50 404.25L298.00 408.00" fill="none" stroke="#EE7407" stroke-width="1.7" stroke-linejoin="round"/>
<rect x="189.75" y="308.40" width="11.0" height="11.0" fill="#EE7407"/>
<rect x="201.10" y="321.00" width="11.0" height="11.0" fill="#EE7407"/>
<rect x="212.40" y="335.10" width="11.0" height="11.0" fill="#EE7407"/>
<rect x="223.80" y="353.00" width="11.0" height="11.0" fill="#EE7407"/>
<rect x="235.25" y="367.00" width="11.0" height="11.0" fill="#EE7407"/>
<rect x="246.75" y="379.30" width="11.0" height="11.0" fill="#EE7407"/>
<rect x="258.00" y="395.25" width="11.0" height="11.0" fill="#EE7407"/>
<rect x="269.50" y="397.00" width="11.0" height="11.0" fill="#EE7407"/>
<rect x="281.00" y="398.75" width="11.0" height="11.0" fill="#EE7407"/>
<rect x="292.50" y="402.50" width="11.0" height="11.0" fill="#EE7407"/>
<path d="M195.25 251.75L206.60 268.75L218.00 285.75L229.30 310.60L240.90 326.00L252.30 335.50L263.50 345.00L275.00 342.80L286.50 359.80L298.00 372.50L309.50 374.50L320.75 386.70L332.25 391.50L343.75 409.25L355.00 421.60" fill="none" stroke="#F5E50A" stroke-width="1.7" stroke-linejoin="round"/>
<rect x="189.75" y="246.25" width="11.0" height="11.0" fill="#F5E50A"/>
<rect x="201.10" y="263.25" width="11.0" height="11.0" fill="#F5E50A"/>
<rect x="212.50" y="280.25" width="11.0" height="11.0" fill="#F5E50A"/>
<rect x="223.80" y="305.10" width="11.0" height="11.0" fill="#F5E50A"/>
<rect x="235.40" y="320.50" width="11.0" height="11.0" fill="#F5E50A"/>
<rect x="246.80" y="330.00" width="11.0" height="11.0" fill="#F5E50A"/>
<rect x="258.00" y="339.50" width="11.0" height="11.0" fill="#F5E50A"/>
<rect x="269.50" y="337.30" width="11.0" height="11.0" fill="#F5E50A"/>
<rect x="281.00" y="354.30" width="11.0" height="11.0" fill="#F5E50A"/>
<rect x="292.50" y="367.00" width="11.0" height="11.0" fill="#F5E50A"/>
<rect x="304.00" y="369.00" width="11.0" height="11.0" fill="#F5E50A"/>
<rect x="315.25" y="381.20" width="11.0" height="11.0" fill="#F5E50A"/>
<rect x="326.75" y="386.00" width="11.0" height="11.0" fill="#F5E50A"/>
<rect x="338.25" y="403.75" width="11.0" height="11.0" fill="#F5E50A"/>
<rect x="349.50" y="416.10" width="11.0" height="11.0" fill="#F5E50A"/>
<path d="M195.25 198.00L206.60 212.80L217.90 232.60L229.20 235.20L240.75 257.50L252.25 270.00L263.50 270.00L275.00 282.00L286.50 294.50L298.00 294.50L309.40 307.30L320.75 317.20L332.25 311.80L343.60 319.50L355.00 342.50L366.25 372.00L377.60 375.00L389.00 378.25L400.50 396.25L412.00 400.50" fill="none" stroke="#0A9645" stroke-width="1.7" stroke-linejoin="round"/>
<rect x="189.75" y="192.50" width="11.0" height="11.0" fill="#0A9645"/>
<rect x="201.10" y="207.30" width="11.0" height="11.0" fill="#0A9645"/>
<rect x="212.40" y="227.10" width="11.0" height="11.0" fill="#0A9645"/>
<rect x="223.70" y="229.70" width="11.0" height="11.0" fill="#0A9645"/>
<rect x="235.25" y="252.00" width="11.0" height="11.0" fill="#0A9645"/>
<rect x="246.75" y="264.50" width="11.0" height="11.0" fill="#0A9645"/>
<rect x="258.00" y="264.50" width="11.0" height="11.0" fill="#0A9645"/>
<rect x="269.50" y="276.50" width="11.0" height="11.0" fill="#0A9645"/>
<rect x="281.00" y="289.00" width="11.0" height="11.0" fill="#0A9645"/>
<rect x="292.50" y="289.00" width="11.0" height="11.0" fill="#0A9645"/>
<rect x="303.90" y="301.80" width="11.0" height="11.0" fill="#0A9645"/>
<rect x="315.25" y="311.70" width="11.0" height="11.0" fill="#0A9645"/>
<rect x="326.75" y="306.30" width="11.0" height="11.0" fill="#0A9645"/>
<rect x="338.10" y="314.00" width="11.0" height="11.0" fill="#0A9645"/>
<rect x="349.50" y="337.00" width="11.0" height="11.0" fill="#0A9645"/>
<rect x="360.75" y="366.50" width="11.0" height="11.0" fill="#0A9645"/>
<rect x="372.10" y="369.50" width="11.0" height="11.0" fill="#0A9645"/>
<rect x="383.50" y="372.75" width="11.0" height="11.0" fill="#0A9645"/>
<rect x="395.00" y="390.75" width="11.0" height="11.0" fill="#0A9645"/>
<rect x="406.50" y="395.00" width="11.0" height="11.0" fill="#0A9645"/>
<path d="M195.25 235.20L206.60 235.20L217.85 180.90L229.10 195.10L240.75 219.00L252.20 217.00L263.40 233.30L274.90 240.50L286.50 252.50L298.00 256.75L309.60 256.50L332.25 274.00L355.00 275.75L389.00 288.00L400.50 302.20L412.00 321.75L423.25 357.00L446.00 365.00L457.50 376.25L469.00 395.00L480.25 408.00L491.60 412.50L503.25 428.25L514.75 440.00" fill="none" stroke="#2D459A" stroke-width="1.7" stroke-linejoin="round"/>
<rect x="189.75" y="229.70" width="11.0" height="11.0" fill="#2D459A"/>
<rect x="201.10" y="229.70" width="11.0" height="11.0" fill="#2D459A"/>
<rect x="212.35" y="175.40" width="11.0" height="11.0" fill="#2D459A"/>
<rect x="223.60" y="189.60" width="11.0" height="11.0" fill="#2D459A"/>
<rect x="235.25" y="213.50" width="11.0" height="11.0" fill="#2D459A"/>
<rect x="246.70" y="211.50" width="11.0" height="11.0" fill="#2D459A"/>
<rect x="257.90" y="227.80" width="11.0" height="11.0" fill="#2D459A"/>
<rect x="269.40" y="235.00" width="11.0" height="11.0" fill="#2D459A"/>
<rect x="281.00" y="247.00" width="11.0" height="11.0" fill="#2D459A"/>
<rect x="292.50" y="251.25" width="11.0" height="11.0" fill="#2D459A"/>
<rect x="304.10" y="251.00" width="11.0" height="11.0" fill="#2D459A"/>
<rect x="326.75" y="268.50" width="11.0" height="11.0" fill="#2D459A"/>
<rect x="349.50" y="270.25" width="11.0" height="11.0" fill="#2D459A"/>
<rect x="383.50" y="282.50" width="11.0" height="11.0" fill="#2D459A"/>
<rect x="395.00" y="296.70" width="11.0" height="11.0" fill="#2D459A"/>
<rect x="406.50" y="316.25" width="11.0" height="11.0" fill="#2D459A"/>
<rect x="417.75" y="351.50" width="11.0" height="11.0" fill="#2D459A"/>
<rect x="440.50" y="359.50" width="11.0" height="11.0" fill="#2D459A"/>
<rect x="452.00" y="370.75" width="11.0" height="11.0" fill="#2D459A"/>
<rect x="463.50" y="389.50" width="11.0" height="11.0" fill="#2D459A"/>
<rect x="474.75" y="402.50" width="11.0" height="11.0" fill="#2D459A"/>
<rect x="486.10" y="407.00" width="11.0" height="11.0" fill="#2D459A"/>
<rect x="497.75" y="422.75" width="11.0" height="11.0" fill="#2D459A"/>
<rect x="509.25" y="434.50" width="11.0" height="11.0" fill="#2D459A"/>
<path d="M195.25 196.50L206.55 201.30L217.85 191.30L229.10 216.10L240.70 213.60L252.10 211.30L263.40 198.60L274.90 218.85L286.50 209.00L298.00 201.25L309.50 218.75L320.75 230.75L332.25 243.00L343.50 243.00L355.00 240.75L366.25 257.00L377.50 271.25L389.00 261.25L400.50 260.00L412.00 260.00L434.75 259.25L457.50 301.50L480.25 331.25L491.60 337.50L503.25 366.75L514.75 382.00L526.00 382.50" fill="none" stroke="#7A4698" stroke-width="1.7" stroke-linejoin="round"/>
<rect x="189.75" y="191.00" width="11.0" height="11.0" fill="#7A4698"/>
<rect x="201.05" y="195.80" width="11.0" height="11.0" fill="#7A4698"/>
<rect x="212.35" y="185.80" width="11.0" height="11.0" fill="#7A4698"/>
<rect x="223.60" y="210.60" width="11.0" height="11.0" fill="#7A4698"/>
<rect x="235.20" y="208.10" width="11.0" height="11.0" fill="#7A4698"/>
<rect x="246.60" y="205.80" width="11.0" height="11.0" fill="#7A4698"/>
<rect x="257.90" y="193.10" width="11.0" height="11.0" fill="#7A4698"/>
<rect x="269.40" y="213.35" width="11.0" height="11.0" fill="#7A4698"/>
<rect x="281.00" y="203.50" width="11.0" height="11.0" fill="#7A4698"/>
<rect x="292.50" y="195.75" width="11.0" height="11.0" fill="#7A4698"/>
<rect x="304.00" y="213.25" width="11.0" height="11.0" fill="#7A4698"/>
<rect x="315.25" y="225.25" width="11.0" height="11.0" fill="#7A4698"/>
<rect x="326.75" y="237.50" width="11.0" height="11.0" fill="#7A4698"/>
<rect x="338.00" y="237.50" width="11.0" height="11.0" fill="#7A4698"/>
<rect x="349.50" y="235.25" width="11.0" height="11.0" fill="#7A4698"/>
<rect x="360.75" y="251.50" width="11.0" height="11.0" fill="#7A4698"/>
<rect x="372.00" y="265.75" width="11.0" height="11.0" fill="#7A4698"/>
<rect x="383.50" y="255.75" width="11.0" height="11.0" fill="#7A4698"/>
<rect x="395.00" y="254.50" width="11.0" height="11.0" fill="#7A4698"/>
<rect x="406.50" y="254.50" width="11.0" height="11.0" fill="#7A4698"/>
<rect x="429.25" y="253.75" width="11.0" height="11.0" fill="#7A4698"/>
<rect x="452.00" y="296.00" width="11.0" height="11.0" fill="#7A4698"/>
<rect x="474.75" y="325.75" width="11.0" height="11.0" fill="#7A4698"/>
<rect x="486.10" y="332.00" width="11.0" height="11.0" fill="#7A4698"/>
<rect x="497.75" y="361.25" width="11.0" height="11.0" fill="#7A4698"/>
<rect x="509.25" y="376.50" width="11.0" height="11.0" fill="#7A4698"/>
<rect x="520.50" y="377.00" width="11.0" height="11.0" fill="#7A4698"/>
<g stroke="#1a1a1a" stroke-width="2.2" fill="none">
<rect x="81.7" y="153.4" width="485.2" height="318.45000000000005"/>
<path d="M81.7 471.85H72.4"/>
<path d="M81.7 455.93H76.7"/>
<path d="M81.7 440.00H72.4"/>
<path d="M81.7 424.08H76.7"/>
<path d="M81.7 408.16H72.4"/>
<path d="M81.7 392.24H76.7"/>
<path d="M81.7 376.31H72.4"/>
<path d="M81.7 360.39H76.7"/>
<path d="M81.7 344.47H72.4"/>
<path d="M81.7 328.55H76.7"/>
<path d="M81.7 312.62H72.4"/>
<path d="M81.7 296.70H76.7"/>
<path d="M81.7 280.78H72.4"/>
<path d="M81.7 264.86H76.7"/>
<path d="M81.7 248.93H72.4"/>
<path d="M81.7 233.01H76.7"/>
<path d="M81.7 217.09H72.4"/>
<path d="M81.7 201.17H76.7"/>
<path d="M81.7 185.25H72.4"/>
<path d="M81.7 169.32H76.7"/>
<path d="M81.7 153.40H72.4"/>
<path d="M81.70 471.85V481.15000000000003"/>
<path d="M110.20 471.85V476.85"/>
<path d="M138.70 471.85V481.15000000000003"/>
<path d="M167.20 471.85V476.85"/>
<path d="M195.70 471.85V481.15000000000003"/>
<path d="M224.20 471.85V476.85"/>
<path d="M252.70 471.85V481.15000000000003"/>
<path d="M281.20 471.85V476.85"/>
<path d="M309.70 471.85V481.15000000000003"/>
<path d="M338.20 471.85V476.85"/>
<path d="M366.70 471.85V481.15000000000003"/>
<path d="M395.20 471.85V476.85"/>
<path d="M423.70 471.85V481.15000000000003"/>
<path d="M452.20 471.85V476.85"/>
<path d="M480.70 471.85V481.15000000000003"/>
<path d="M509.20 471.85V476.85"/>
<path d="M537.70 471.85V481.15000000000003"/>
<path d="M566.20 471.85V476.85"/>
</g>
<text x="0" y="0" font-size="18.6" text-anchor="end" transform="translate(67 476.55) scale(1.06 1)">0</text>
<text x="0" y="0" font-size="18.6" text-anchor="end" transform="translate(67 444.70) scale(1.06 1)">50</text>
<text x="0" y="0" font-size="18.6" text-anchor="end" transform="translate(67 412.86) scale(1.06 1)">100</text>
<text x="0" y="0" font-size="18.6" text-anchor="end" transform="translate(67 381.01) scale(1.06 1)">150</text>
<text x="0" y="0" font-size="18.6" text-anchor="end" transform="translate(67 349.17) scale(1.06 1)">200</text>
<text x="0" y="0" font-size="18.6" text-anchor="end" transform="translate(67 317.32) scale(1.06 1)">250</text>
<text x="0" y="0" font-size="18.6" text-anchor="end" transform="translate(67 285.48) scale(1.06 1)">300</text>
<text x="0" y="0" font-size="18.6" text-anchor="end" transform="translate(67 253.63) scale(1.06 1)">350</text>
<text x="0" y="0" font-size="18.6" text-anchor="end" transform="translate(67 221.79) scale(1.06 1)">400</text>
<text x="0" y="0" font-size="18.6" text-anchor="end" transform="translate(67 189.94) scale(1.06 1)">450</text>
<text x="0" y="0" font-size="18.6" text-anchor="end" transform="translate(67 158.10) scale(1.06 1)">500</text>
<text x="0" y="0" font-size="22.7" text-anchor="middle" transform="translate(81.70 503) scale(1.03 1)">-2</text>
<text x="0" y="0" font-size="22.7" text-anchor="middle" transform="translate(138.70 503) scale(1.03 1)">-1</text>
<text x="0" y="0" font-size="22.7" text-anchor="middle" transform="translate(195.70 503) scale(1.03 1)">0</text>
<text x="0" y="0" font-size="22.7" text-anchor="middle" transform="translate(252.70 503) scale(1.03 1)">1</text>
<text x="0" y="0" font-size="22.7" text-anchor="middle" transform="translate(309.70 503) scale(1.03 1)">2</text>
<text x="0" y="0" font-size="22.7" text-anchor="middle" transform="translate(366.70 503) scale(1.03 1)">3</text>
<text x="0" y="0" font-size="22.7" text-anchor="middle" transform="translate(423.70 503) scale(1.03 1)">4</text>
<text x="0" y="0" font-size="22.7" text-anchor="middle" transform="translate(480.70 503) scale(1.03 1)">5</text>
<text x="0" y="0" font-size="22.7" text-anchor="middle" transform="translate(537.70 503) scale(1.03 1)">6</text>
<text x="195.8" y="531" font-size="24.2">dz<tspan font-size="15.5" dy="8">L</tspan><tspan dy="-8">, Lens Position (mm)</tspan></text>
<text x="0" y="0" font-size="24.95" transform="translate(19.3 491.7) rotate(-90)">2<tspan class="om" font-size="22.5">ϖ</tspan>, Ablated Spots Diameter (μm)</text>
<rect x="461.3" y="163.3" width="97" height="118.2" fill="#fff" stroke="#1a1a1a" stroke-width="2"/>
<path d="M473 184.60H505.5" stroke="#E30613" stroke-width="1.7"/>
<rect x="482.90" y="179.10" width="11.0" height="11.0" fill="#E30613"/>
<text x="509.7" y="190.20" font-size="14.4">0 mm</text>
<path d="M473 202.22H505.5" stroke="#EE7407" stroke-width="1.7"/>
<rect x="482.90" y="196.72" width="11.0" height="11.0" fill="#EE7407"/>
<text x="509.7" y="207.82" font-size="14.4">3 mm</text>
<path d="M473 219.84H505.5" stroke="#F5E50A" stroke-width="1.7"/>
<rect x="482.90" y="214.34" width="11.0" height="11.0" fill="#F5E50A"/>
<text x="509.7" y="225.44" font-size="14.4">5 mm</text>
<path d="M473 237.46H505.5" stroke="#0A9645" stroke-width="1.7"/>
<rect x="482.90" y="231.96" width="11.0" height="11.0" fill="#0A9645"/>
<text x="509.7" y="243.06" font-size="14.4">10 mm</text>
<path d="M473 255.08H505.5" stroke="#2D459A" stroke-width="1.7"/>
<rect x="482.90" y="249.58" width="11.0" height="11.0" fill="#2D459A"/>
<text x="509.7" y="260.68" font-size="14.4">15 mm</text>
<path d="M473 272.70H505.5" stroke="#7A4698" stroke-width="1.7"/>
<rect x="482.90" y="267.20" width="11.0" height="11.0" fill="#7A4698"/>
<text x="509.7" y="278.30" font-size="14.4">20 mm</text>
</g>
</svg></body></html>
